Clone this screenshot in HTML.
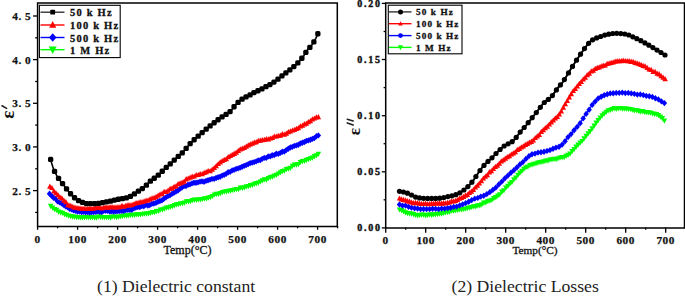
<!DOCTYPE html>
<html><head><meta charset="utf-8"><style>
html,body{margin:0;padding:0;background:#fff;width:685px;height:296px;overflow:hidden}
svg{display:block}
</style></head><body>
<svg width="685" height="296" viewBox="0 0 685 296">
<style>
.tk { font-family: "Liberation Serif", serif; font-weight: bold; font-size: 11.3px; letter-spacing: 0.5px; fill: #111; stroke:#111; stroke-width:0.25px; }
.tk2 { font-family: "Liberation Serif", serif; font-weight: bold; font-size: 10px; letter-spacing: 1.7px; fill: #111; stroke:#111; stroke-width:0.4px; }
.lg { font-family: "Liberation Serif", serif; font-weight: bold; font-size: 10.5px; letter-spacing: 1.2px; fill: #111; stroke:#111; stroke-width:0.3px; }
.lg2 { font-family: "Liberation Serif", serif; font-weight: bold; font-size: 9.2px; letter-spacing: 1.1px; fill: #111; stroke:#111; stroke-width:0.3px; }
.lab { font-family: "Liberation Serif", serif; font-size: 12px; fill: #111; stroke:#111; stroke-width:0.3px; }
.eps { font-family: "Liberation Serif", serif; font-weight: bold; font-size: 19px; fill: #111; }
.cap { font-family: "Liberation Serif", serif; font-size: 17.7px; fill: #222; }
</style>
<rect width="685" height="296" fill="#fff"/>
<path d="M50.6 205.8 L51.6 206.7 L52.6 207.5 L53.6 208.3 L54.6 209.1 L55.6 209.7 L56.6 210.4 L57.6 210.9 L58.6 211.4 L59.6 211.9 L60.6 212.3 L61.6 212.8 L62.6 213.2 L63.6 213.6 L64.6 214 L65.6 214.4 L66.6 214.9 L67.6 215.3 L68.6 215.6 L69.6 215.9 L70.6 216.2 L71.6 216.4 L72.6 216.6 L73.6 216.7 L74.6 216.9 L75.6 217 L76.6 217.2 L77.6 217.3 L78.6 217.4 L79.6 217.4 L80.6 217.4 L81.6 217.4 L82.6 217.4 L83.6 217.4 L84.6 217.4 L85.6 217.4 L86.6 217.4 L87.6 217.4 L88.6 217.4 L89.6 217.4 L90.6 217.4 L91.6 217.4 L92.6 217.4 L93.6 217.4 L94.6 217.4 L95.6 217.4 L96.6 217.4 L97.6 217.4 L98.6 217.4 L99.6 217.4 L100.6 217.4 L101.6 217.4 L102.6 217.4 L103.6 217.3 L104.6 217.3 L105.6 217.3 L106.6 217.2 L107.6 217.2 L108.6 217.1 L109.6 217.1 L110.6 217 L111.6 217 L112.6 216.9 L113.6 216.9 L114.6 216.8 L115.6 216.7 L116.6 216.7 L117.5 216.6 L118.5 216.5 L119.5 216.5 L120.5 216.4 L121.5 216.3 L122.5 216.2 L123.5 216.1 L124.5 216 L125.5 215.9 L126.5 215.7 L127.5 215.6 L128.5 215.5 L129.5 215.4 L130.5 215.3 L131.5 215.2 L132.5 215.1 L133.5 215 L134.5 214.9 L135.5 214.8 L136.5 214.7 L137.5 214.6 L138.5 214.5 L139.5 214.4 L140.5 214.3 L141.5 214.2 L142.5 214.1 L143.5 213.9 L144.5 213.8 L145.5 213.7 L146.5 213.5 L147.5 213.4 L148.5 213.2 L149.5 213 L150.5 212.8 L151.5 212.6 L152.5 212.4 L153.5 212.2 L154.5 211.9 L155.5 211.6 L156.5 211.3 L157.5 211 L158.5 210.6 L159.5 210.3 L160.5 209.9 L161.5 209.6 L162.5 209.3 L163.5 209 L164.5 208.7 L165.5 208.4 L166.5 208.1 L167.5 207.8 L168.5 207.5 L169.5 207.1 L170.5 206.8 L171.5 206.5 L172.5 206.1 L173.5 205.8 L174.5 205.5 L175.5 205.2 L176.5 204.9 L177.5 204.6 L178.5 204.3 L179.5 204 L180.5 203.7 L181.5 203.4 L182.5 203.1 L183.5 202.8 L184.5 202.5 L185.5 202.2 L186.5 202 L187.5 201.7 L188.5 201.4 L189.5 201.1 L190.5 200.8 L191.5 200.6 L192.5 200.3 L193.5 200.1 L194.5 199.9 L195.5 199.8 L196.5 199.7 L197.5 199.6 L198.5 199.5 L199.5 199.4 L200.5 199.3 L201.5 199.3 L202.5 199.2 L203.5 199.1 L204.5 199 L205.5 198.8 L206.5 198.6 L207.5 198.3 L208.5 197.9 L209.5 197.5 L210.5 197 L211.5 196.5 L212.5 196 L213.5 195.5 L214.5 195.1 L215.5 194.7 L216.5 194.3 L217.5 194 L218.5 193.6 L219.5 193.3 L220.5 193 L221.5 192.7 L222.5 192.4 L223.5 192.1 L224.5 191.8 L225.5 191.6 L226.5 191.3 L227.5 191.1 L228.5 190.9 L229.5 190.6 L230.5 190.4 L231.5 190.2 L232.5 190 L233.5 189.8 L234.5 189.7 L235.5 189.5 L236.5 189.3 L237.5 189.1 L238.5 188.9 L239.5 188.7 L240.5 188.5 L241.5 188.2 L242.5 188 L243.5 187.7 L244.5 187.4 L245.5 187.1 L246.5 186.8 L247.5 186.5 L248.5 186.2 L249.5 185.8 L250.5 185.5 L251.4 185.1 L252.4 184.8 L253.4 184.4 L254.4 184 L255.4 183.5 L256.4 183.1 L257.4 182.7 L258.4 182.3 L259.4 181.9 L260.4 181.5 L261.4 181.1 L262.4 180.7 L263.4 180.3 L264.4 179.9 L265.4 179.5 L266.4 179.1 L267.4 178.8 L268.4 178.4 L269.4 177.9 L270.4 177.5 L271.4 177.1 L272.4 176.6 L273.4 176.1 L274.4 175.6 L275.4 175.1 L276.4 174.6 L277.4 174.1 L278.4 173.6 L279.4 173 L280.4 172.5 L281.4 172 L282.4 171.5 L283.4 171 L284.4 170.5 L285.4 170 L286.4 169.5 L287.4 169 L288.4 168.5 L289.4 168 L290.4 167.5 L291.4 167 L292.4 166.5 L293.4 166 L294.4 165.5 L295.4 165 L296.4 164.4 L297.4 163.9 L298.4 163.5 L299.4 163 L300.4 162.5 L301.4 162.1 L302.4 161.6 L303.4 161.2 L304.4 160.9 L305.4 160.5 L306.4 160.1 L307.4 159.7 L308.4 159.4 L309.4 158.9 L310.4 158.5 L311.4 158 L312.4 157.6 L313.4 157 L314.4 156.5 L315.4 155.9 L316.4 155.3 L317.4 154.6 L318.4 154" fill="none" stroke="#00ff00" stroke-width="1.2"/>
<g fill="#00ff00"><path d="M50.6 208.9L53.4 203.7H47.9Z"/><path d="M52.6 210.8L55.3 205.6H49.8Z"/><path d="M54.6 212.2L57.3 207H51.8Z"/><path d="M56.6 213L59.3 207.8H53.8Z"/><path d="M58.6 214.7L61.3 209.5H55.8Z"/><path d="M60.6 215.5L63.3 210.3H57.8Z"/><path d="M62.6 216.1L65.3 210.8H59.8Z"/><path d="M64.6 217.2L67.3 212H61.8Z"/><path d="M66.6 218L69.3 212.8H63.8Z"/><path d="M68.6 218.7L71.3 213.5H65.8Z"/><path d="M70.6 219.2L73.3 214H67.8Z"/><path d="M72.6 219.7L75.3 214.5H69.8Z"/><path d="M74.6 219.7L77.3 214.5H71.8Z"/><path d="M76.6 220.2L79.3 214.9H73.8Z"/><path d="M78.6 220.2L81.3 215H75.8Z"/><path d="M80.6 220.6L83.3 215.4H77.8Z"/><path d="M82.6 220.4L85.3 215.2H79.8Z"/><path d="M84.6 220.3L87.3 215.1H81.8Z"/><path d="M86.6 220.2L89.3 215H83.8Z"/><path d="M88.6 220.3L91.3 215.1H85.8Z"/><path d="M90.6 220.4L93.3 215.2H87.8Z"/><path d="M92.6 220.3L95.3 215.1H89.8Z"/><path d="M94.6 220.8L97.3 215.6H91.8Z"/><path d="M96.6 220.7L99.3 215.5H93.8Z"/><path d="M98.6 219.6L101.3 214.4H95.8Z"/><path d="M100.6 219.9L103.3 214.6H97.8Z"/><path d="M102.6 220.3L105.3 215.1H99.8Z"/><path d="M104.6 220.2L107.3 215H101.8Z"/><path d="M106.6 220.3L109.3 215.1H103.8Z"/><path d="M108.6 220.2L111.3 215H105.8Z"/><path d="M110.6 220.7L113.3 215.5H107.8Z"/><path d="M112.6 219.6L115.3 214.4H109.8Z"/><path d="M114.6 219.7L117.3 214.5H111.8Z"/><path d="M116.6 220.3L119.3 215.1H113.8Z"/><path d="M118.5 219.7L121.3 214.5H115.8Z"/><path d="M120.5 219.6L123.3 214.4H117.8Z"/><path d="M122.5 219.1L125.3 213.9H119.8Z"/><path d="M124.5 218.5L127.3 213.3H121.8Z"/><path d="M126.5 218.8L129.3 213.6H123.8Z"/><path d="M128.5 218.6L131.3 213.3H125.8Z"/><path d="M130.5 217.9L133.3 212.7H127.8Z"/><path d="M132.5 217.9L135.3 212.7H129.8Z"/><path d="M134.5 217.9L137.3 212.7H131.8Z"/><path d="M136.5 217.5L139.3 212.2H133.8Z"/><path d="M138.5 217.5L141.3 212.3H135.8Z"/><path d="M140.5 217.4L143.3 212.1H137.8Z"/><path d="M142.5 217.1L145.3 211.9H139.8Z"/><path d="M144.5 216.7L147.3 211.4H141.8Z"/><path d="M146.5 216.7L149.3 211.5H143.8Z"/><path d="M148.5 216.5L151.3 211.3H145.8Z"/><path d="M150.5 216L153.3 210.7H147.8Z"/><path d="M152.5 215.2L155.3 210H149.8Z"/><path d="M154.5 215.2L157.3 209.9H151.8Z"/><path d="M156.5 214.2L159.3 209H153.8Z"/><path d="M158.5 213.9L161.3 208.7H155.8Z"/><path d="M160.5 212.6L163.3 207.4H157.8Z"/><path d="M162.5 212.6L165.3 207.4H159.8Z"/><path d="M164.5 211.8L167.3 206.5H161.8Z"/><path d="M166.5 210.8L169.3 205.5H163.8Z"/><path d="M168.5 210.4L171.3 205.2H165.8Z"/><path d="M170.5 209.8L173.3 204.6H167.8Z"/><path d="M172.5 209.2L175.3 204H169.8Z"/><path d="M174.5 208.2L177.3 203H171.8Z"/><path d="M176.5 207.6L179.3 202.3H173.8Z"/><path d="M178.5 207.3L181.3 202.1H175.8Z"/><path d="M180.5 206.5L183.3 201.3H177.8Z"/><path d="M182.5 206.2L185.3 200.9H179.8Z"/><path d="M184.5 205.8L187.2 200.5H181.7Z"/><path d="M186.5 204.5L189.2 199.3H183.7Z"/><path d="M188.5 204.5L191.2 199.3H185.7Z"/><path d="M190.5 204.2L193.2 199H187.7Z"/><path d="M192.5 203.3L195.2 198.1H189.7Z"/><path d="M194.5 202.7L197.2 197.5H191.7Z"/><path d="M196.5 202.9L199.2 197.7H193.7Z"/><path d="M198.5 202.6L201.2 197.3H195.7Z"/><path d="M200.5 202.6L203.2 197.4H197.7Z"/><path d="M202.5 202.1L205.2 196.9H199.7Z"/><path d="M204.5 201.5L207.2 196.3H201.7Z"/><path d="M206.5 201.6L209.2 196.4H203.7Z"/><path d="M208.5 200.8L211.2 195.6H205.7Z"/><path d="M210.5 200.3L213.2 195.1H207.7Z"/><path d="M212.5 199.1L215.2 193.9H209.7Z"/><path d="M214.5 197.6L217.2 192.4H211.7Z"/><path d="M216.5 197L219.2 191.8H213.7Z"/><path d="M218.5 196.9L221.2 191.7H215.7Z"/><path d="M220.5 196.2L223.2 191H217.7Z"/><path d="M222.5 195.2L225.2 190H219.7Z"/><path d="M224.5 194.8L227.2 189.6H221.7Z"/><path d="M226.5 194.5L229.2 189.3H223.7Z"/><path d="M228.5 194L231.2 188.8H225.7Z"/><path d="M230.5 193.7L233.2 188.5H227.7Z"/><path d="M232.5 193.1L235.2 187.9H229.7Z"/><path d="M234.5 192.7L237.2 187.4H231.7Z"/><path d="M236.5 192.2L239.2 187H233.7Z"/><path d="M238.5 192.2L241.2 187H235.7Z"/><path d="M240.5 190.8L243.2 185.6H237.7Z"/><path d="M242.5 190.9L245.2 185.7H239.7Z"/><path d="M244.5 190.4L247.2 185.2H241.7Z"/><path d="M246.5 189.4L249.2 184.2H243.7Z"/><path d="M248.5 189.3L251.2 184.1H245.7Z"/><path d="M250.5 188.3L253.2 183.1H247.7Z"/><path d="M252.4 188L255.2 182.8H249.7Z"/><path d="M254.4 186.9L257.2 181.7H251.7Z"/><path d="M256.4 186.4L259.2 181.1H253.7Z"/><path d="M258.4 185.7L261.2 180.4H255.7Z"/><path d="M260.4 184.6L263.2 179.4H257.7Z"/><path d="M262.4 183.4L265.2 178.2H259.7Z"/><path d="M264.4 182.5L267.2 177.3H261.7Z"/><path d="M266.4 182.7L269.2 177.5H263.7Z"/><path d="M268.4 181.3L271.2 176.1H265.7Z"/><path d="M270.4 180.3L273.2 175.1H267.7Z"/><path d="M272.4 179.7L275.2 174.4H269.7Z"/><path d="M274.4 178.6L277.2 173.4H271.7Z"/><path d="M276.4 177.9L279.2 172.7H273.7Z"/><path d="M278.4 176.6L281.2 171.4H275.7Z"/><path d="M280.4 175.6L283.2 170.3H277.7Z"/><path d="M282.4 174.3L285.2 169.1H279.7Z"/><path d="M284.4 173.7L287.2 168.5H281.7Z"/><path d="M286.4 172.2L289.2 167H283.7Z"/><path d="M288.4 171.7L291.2 166.5H285.7Z"/><path d="M290.4 171L293.2 165.7H287.7Z"/><path d="M292.4 169.1L295.2 163.8H289.7Z"/><path d="M294.4 167.7L297.2 162.5H291.7Z"/><path d="M296.4 167.7L299.2 162.4H293.7Z"/><path d="M298.4 167.2L301.2 162H295.7Z"/><path d="M300.4 165.2L303.2 160H297.7Z"/><path d="M302.4 164.3L305.2 159.1H299.7Z"/><path d="M304.4 164.1L307.2 158.8H301.7Z"/><path d="M306.4 162.9L309.2 157.7H303.7Z"/><path d="M308.4 162.2L311.2 157H305.7Z"/><path d="M310.4 161.4L313.2 156.2H307.7Z"/><path d="M312.4 160.7L315.2 155.5H309.7Z"/><path d="M314.4 159.4L317.2 154.1H311.7Z"/><path d="M316.4 158.4L319.2 153.2H313.7Z"/><path d="M318.4 157L321.1 151.7H315.6Z"/></g>
<path d="M49.5 193.7 L50.5 194.8 L51.5 195.9 L52.5 197 L53.5 197.9 L54.5 198.7 L55.5 199.5 L56.5 200.2 L57.5 200.8 L58.5 201.4 L59.5 202.1 L60.5 202.7 L61.5 203.3 L62.5 204 L63.5 204.7 L64.5 205.4 L65.5 206.1 L66.5 206.8 L67.5 207.4 L68.5 207.9 L69.5 208.5 L70.5 209 L71.5 209.5 L72.5 210 L73.5 210.4 L74.5 210.8 L75.5 211 L76.5 211.2 L77.5 211.4 L78.5 211.5 L79.5 211.7 L80.5 211.8 L81.5 211.9 L82.5 212 L83.5 212.1 L84.5 212.2 L85.5 212.3 L86.5 212.3 L87.5 212.3 L88.5 212.3 L89.5 212.2 L90.5 212.2 L91.5 212.1 L92.5 212.1 L93.5 212 L94.5 211.9 L95.5 211.8 L96.5 211.7 L97.5 211.6 L98.5 211.6 L99.5 211.5 L100.5 211.5 L101.5 211.5 L102.5 211.4 L103.5 211.4 L104.5 211.4 L105.5 211.4 L106.5 211.3 L107.5 211.3 L108.5 211.3 L109.5 211.3 L110.5 211.3 L111.5 211.3 L112.5 211.2 L113.5 211.2 L114.5 211.2 L115.5 211.2 L116.5 211.1 L117.5 211.1 L118.5 211.1 L119.5 211 L120.5 211 L121.5 210.9 L122.5 210.8 L123.5 210.7 L124.5 210.6 L125.5 210.4 L126.5 210.3 L127.5 210.1 L128.5 209.9 L129.5 209.7 L130.5 209.5 L131.5 209.3 L132.5 209 L133.5 208.7 L134.5 208.4 L135.5 208.1 L136.5 207.7 L137.5 207.4 L138.5 207.1 L139.5 206.8 L140.5 206.5 L141.5 206.3 L142.5 206.1 L143.5 205.9 L144.5 205.7 L145.5 205.6 L146.5 205.4 L147.5 205.2 L148.5 205 L149.5 204.8 L150.5 204.6 L151.5 204.3 L152.5 204 L153.5 203.6 L154.5 203.2 L155.5 202.8 L156.5 202.3 L157.5 201.9 L158.5 201.4 L159.5 200.9 L160.5 200.4 L161.5 199.9 L162.5 199.4 L163.5 198.9 L164.5 198.3 L165.5 197.8 L166.5 197.2 L167.5 196.6 L168.5 196 L169.5 195.4 L170.5 194.8 L171.5 194.2 L172.5 193.6 L173.5 193 L174.5 192.4 L175.5 191.8 L176.5 191.2 L177.5 190.6 L178.5 190 L179.5 189.4 L180.5 188.9 L181.5 188.3 L182.5 187.8 L183.5 187.2 L184.4 186.6 L185.4 186 L186.4 185.5 L187.4 185 L188.4 184.5 L189.4 184.1 L190.4 183.7 L191.4 183.5 L192.4 183.2 L193.4 183 L194.4 182.9 L195.4 182.7 L196.4 182.6 L197.4 182.4 L198.4 182.3 L199.4 182.1 L200.4 182 L201.4 181.8 L202.4 181.6 L203.4 181.4 L204.4 181.1 L205.4 180.9 L206.4 180.6 L207.4 180.3 L208.4 180.1 L209.4 179.8 L210.4 179.5 L211.4 179.2 L212.4 179 L213.4 178.7 L214.4 178.5 L215.4 178.2 L216.4 177.9 L217.4 177.6 L218.4 177.3 L219.4 177 L220.4 176.6 L221.4 176.2 L222.4 175.7 L223.4 175.2 L224.4 174.6 L225.4 174 L226.4 173.4 L227.4 172.9 L228.4 172.3 L229.4 171.8 L230.4 171.4 L231.4 170.9 L232.4 170.5 L233.4 170.1 L234.4 169.8 L235.4 169.4 L236.4 169 L237.4 168.7 L238.4 168.3 L239.4 167.9 L240.4 167.5 L241.4 167.2 L242.4 166.8 L243.4 166.4 L244.4 165.9 L245.4 165.5 L246.4 165.1 L247.4 164.7 L248.4 164.3 L249.4 163.9 L250.4 163.5 L251.4 163.1 L252.4 162.7 L253.4 162.2 L254.4 161.8 L255.4 161.4 L256.4 161 L257.4 160.5 L258.4 160.1 L259.4 159.7 L260.4 159.4 L261.4 159 L262.4 158.7 L263.4 158.3 L264.4 158 L265.4 157.7 L266.4 157.4 L267.4 157 L268.4 156.7 L269.4 156.4 L270.4 156.1 L271.4 155.8 L272.4 155.5 L273.4 155.2 L274.4 154.9 L275.4 154.6 L276.4 154.3 L277.4 153.9 L278.4 153.6 L279.4 153.3 L280.4 152.9 L281.4 152.5 L282.4 152 L283.4 151.5 L284.4 151 L285.4 150.4 L286.4 149.8 L287.4 149.3 L288.4 148.7 L289.4 148.2 L290.4 147.7 L291.4 147.2 L292.4 146.8 L293.4 146.4 L294.4 146 L295.4 145.6 L296.4 145.2 L297.4 144.8 L298.4 144.4 L299.4 144.1 L300.4 143.7 L301.4 143.3 L302.4 142.9 L303.4 142.5 L304.4 142.1 L305.4 141.7 L306.4 141.4 L307.4 141 L308.4 140.6 L309.4 140.2 L310.4 139.7 L311.4 139.3 L312.4 138.8 L313.4 138.2 L314.4 137.7 L315.4 137.1 L316.4 136.5 L317.4 135.9 L318.4 135.3" fill="none" stroke="#0000ff" stroke-width="1.2"/>
<g fill="#0000ff"><path d="M49.5 190.6L52.2 193.8L49.5 196.9L46.8 193.8Z"/><path d="M51.5 192.6L54.3 195.8L51.5 199L48.8 195.8Z"/><path d="M53.5 194.6L56.3 197.8L53.5 201L50.8 197.8Z"/><path d="M55.5 195.6L58.3 198.8L55.5 201.9L52.8 198.8Z"/><path d="M57.5 198.2L60.3 201.4L57.5 204.5L54.8 201.4Z"/><path d="M59.5 199.3L62.3 202.4L59.5 205.6L56.8 202.4Z"/><path d="M61.5 200.1L64.3 203.3L61.5 206.4L58.8 203.3Z"/><path d="M63.5 201.8L66.3 205L63.5 208.1L60.8 205Z"/><path d="M65.6 203.1L68.3 206.2L65.6 209.4L62.8 206.2Z"/><path d="M67.6 204.1L70.3 207.3L67.6 210.4L64.8 207.3Z"/><path d="M69.6 205.7L72.3 208.8L69.6 212L66.8 208.8Z"/><path d="M71.6 206.3L74.3 209.5L71.6 212.6L68.8 209.5Z"/><path d="M73.6 207.2L76.3 210.4L73.6 213.5L70.8 210.4Z"/><path d="M75.6 207.6L78.3 210.8L75.6 213.9L72.8 210.8Z"/><path d="M77.6 208.3L80.3 211.5L77.6 214.7L74.8 211.5Z"/><path d="M79.6 208.5L82.4 211.7L79.6 214.8L76.9 211.7Z"/><path d="M81.6 208.9L84.4 212.1L81.6 215.3L78.9 212.1Z"/><path d="M83.6 208.8L86.4 212L83.6 215.1L80.9 212Z"/><path d="M85.6 209.1L88.4 212.3L85.6 215.5L82.9 212.3Z"/><path d="M87.6 208.9L90.4 212L87.6 215.2L84.9 212Z"/><path d="M89.6 209.3L92.4 212.5L89.6 215.7L86.9 212.5Z"/><path d="M91.6 209L94.4 212.2L91.6 215.3L88.9 212.2Z"/><path d="M93.6 208.9L96.4 212.1L93.6 215.2L90.9 212.1Z"/><path d="M95.7 208.7L98.4 211.9L95.7 215.1L92.9 211.9Z"/><path d="M97.7 208.2L100.4 211.3L97.7 214.5L94.9 211.3Z"/><path d="M99.7 208.6L102.4 211.7L99.7 214.9L96.9 211.7Z"/><path d="M101.7 208.9L104.4 212.1L101.7 215.2L98.9 212.1Z"/><path d="M103.7 207.7L106.4 210.9L103.7 214.1L100.9 210.9Z"/><path d="M105.7 207.7L108.4 210.8L105.7 214L102.9 210.8Z"/><path d="M107.7 207.7L110.4 210.9L107.7 214L104.9 210.9Z"/><path d="M109.7 208.4L112.5 211.5L109.7 214.7L107 211.5Z"/><path d="M111.7 208.1L114.5 211.3L111.7 214.4L109 211.3Z"/><path d="M113.7 208.4L116.5 211.5L113.7 214.7L111 211.5Z"/><path d="M115.7 208.2L118.5 211.4L115.7 214.5L113 211.4Z"/><path d="M117.7 208L120.5 211.2L117.7 214.3L115 211.2Z"/><path d="M119.7 207.9L122.5 211.1L119.7 214.3L117 211.1Z"/><path d="M121.7 207.7L124.5 210.9L121.7 214L119 210.9Z"/><path d="M123.7 207.8L126.5 210.9L123.7 214.1L121 210.9Z"/><path d="M125.8 206.9L128.5 210L125.8 213.2L123 210Z"/><path d="M127.8 206.7L130.5 209.9L127.8 213.1L125 209.9Z"/><path d="M129.8 206.5L132.5 209.7L129.8 212.9L127 209.7Z"/><path d="M131.8 206.6L134.5 209.7L131.8 212.9L129 209.7Z"/><path d="M133.8 205.2L136.5 208.4L133.8 211.5L131 208.4Z"/><path d="M135.8 204.5L138.5 207.6L135.8 210.8L133 207.6Z"/><path d="M137.8 204L140.5 207.1L137.8 210.3L135 207.1Z"/><path d="M139.8 203.8L142.6 207L139.8 210.2L137.1 207Z"/><path d="M141.8 203L144.6 206.2L141.8 209.3L139.1 206.2Z"/><path d="M143.8 203.1L146.6 206.3L143.8 209.4L141.1 206.3Z"/><path d="M145.8 201.8L148.6 205L145.8 208.1L143.1 205Z"/><path d="M147.8 202.3L150.6 205.5L147.8 208.7L145.1 205.5Z"/><path d="M149.8 201.9L152.6 205L149.8 208.2L147.1 205Z"/><path d="M151.8 200.6L154.6 203.7L151.8 206.9L149.1 203.7Z"/><path d="M153.8 200.3L156.6 203.5L153.8 206.7L151.1 203.5Z"/><path d="M155.9 199.8L158.6 203L155.9 206.1L153.1 203Z"/><path d="M157.9 198.5L160.6 201.7L157.9 204.9L155.1 201.7Z"/><path d="M159.9 197.8L162.6 201L159.9 204.2L157.1 201Z"/><path d="M161.9 197.3L164.6 200.4L161.9 203.6L159.1 200.4Z"/><path d="M163.9 195.6L166.6 198.7L163.9 201.9L161.1 198.7Z"/><path d="M165.9 194.3L168.6 197.4L165.9 200.6L163.1 197.4Z"/><path d="M167.9 192.9L170.6 196.1L167.9 199.3L165.1 196.1Z"/><path d="M169.9 192.2L172.7 195.3L169.9 198.5L167.2 195.3Z"/><path d="M171.9 190.7L174.7 193.9L171.9 197.1L169.2 193.9Z"/><path d="M173.9 189.5L176.7 192.7L173.9 195.9L171.2 192.7Z"/><path d="M175.9 188.3L178.7 191.5L175.9 194.7L173.2 191.5Z"/><path d="M177.9 187.3L180.7 190.5L177.9 193.7L175.2 190.5Z"/><path d="M179.9 185.7L182.7 188.8L179.9 192L177.2 188.8Z"/><path d="M181.9 184.4L184.7 187.6L181.9 190.7L179.2 187.6Z"/><path d="M183.9 183L186.7 186.2L183.9 189.3L181.2 186.2Z"/><path d="M186 183L188.7 186.1L186 189.3L183.2 186.1Z"/><path d="M188 181.6L190.7 184.8L188 187.9L185.2 184.8Z"/><path d="M190 181.2L192.7 184.4L190 187.5L187.2 184.4Z"/><path d="M192 180.2L194.7 183.3L192 186.5L189.2 183.3Z"/><path d="M194 179.6L196.7 182.7L194 185.9L191.2 182.7Z"/><path d="M196 179.6L198.7 182.8L196 185.9L193.2 182.8Z"/><path d="M198 179.2L200.7 182.3L198 185.5L195.2 182.3Z"/><path d="M200 178.5L202.8 181.7L200 184.8L197.3 181.7Z"/><path d="M202 178.2L204.8 181.4L202 184.6L199.3 181.4Z"/><path d="M204 178.6L206.8 181.7L204 184.9L201.3 181.7Z"/><path d="M206 177.7L208.8 180.8L206 184L203.3 180.8Z"/><path d="M208 177.1L210.8 180.3L208 183.5L205.3 180.3Z"/><path d="M210 176.4L212.8 179.5L210 182.7L207.3 179.5Z"/><path d="M212 175.7L214.8 178.9L212 182L209.3 178.9Z"/><path d="M214.1 175.7L216.8 178.8L214.1 182L211.3 178.8Z"/><path d="M216.1 174.8L218.8 178L216.1 181.2L213.3 178Z"/><path d="M218.1 174.1L220.8 177.2L218.1 180.4L215.3 177.2Z"/><path d="M220.1 173.6L222.8 176.7L220.1 179.9L217.3 176.7Z"/><path d="M222.1 172.5L224.8 175.6L222.1 178.8L219.3 175.6Z"/><path d="M224.1 171.7L226.8 174.9L224.1 178L221.3 174.9Z"/><path d="M226.1 170.8L228.8 174L226.1 177.1L223.3 174Z"/><path d="M228.1 169.1L230.8 172.2L228.1 175.4L225.3 172.2Z"/><path d="M230.1 168.8L232.9 171.9L230.1 175.1L227.4 171.9Z"/><path d="M232.1 167.3L234.9 170.5L232.1 173.6L229.4 170.5Z"/><path d="M234.1 166.8L236.9 169.9L234.1 173.1L231.4 169.9Z"/><path d="M236.1 165.7L238.9 168.9L236.1 172.1L233.4 168.9Z"/><path d="M238.1 165.2L240.9 168.4L238.1 171.5L235.4 168.4Z"/><path d="M240.1 164.5L242.9 167.7L240.1 170.8L237.4 167.7Z"/><path d="M242.1 163.6L244.9 166.7L242.1 169.9L239.4 166.7Z"/><path d="M244.2 162.7L246.9 165.8L244.2 169L241.4 165.8Z"/><path d="M246.2 161.9L248.9 165L246.2 168.2L243.4 165Z"/><path d="M248.2 161L250.9 164.2L248.2 167.3L245.4 164.2Z"/><path d="M250.2 160L252.9 163.1L250.2 166.3L247.4 163.1Z"/><path d="M252.2 159.5L254.9 162.7L252.2 165.8L249.4 162.7Z"/><path d="M254.2 158.9L256.9 162L254.2 165.2L251.4 162Z"/><path d="M256.2 158.2L258.9 161.3L256.2 164.5L253.4 161.3Z"/><path d="M258.2 157.3L260.9 160.4L258.2 163.6L255.4 160.4Z"/><path d="M260.2 157L263 160.2L260.2 163.3L257.5 160.2Z"/><path d="M262.2 155.7L265 158.8L262.2 162L259.5 158.8Z"/><path d="M264.2 154.8L267 157.9L264.2 161.1L261.5 157.9Z"/><path d="M266.2 154.8L269 158L266.2 161.1L263.5 158Z"/><path d="M268.2 153.3L271 156.5L268.2 159.6L265.5 156.5Z"/><path d="M270.2 153.3L273 156.4L270.2 159.6L267.5 156.4Z"/><path d="M272.2 152.1L275 155.2L272.2 158.4L269.5 155.2Z"/><path d="M274.3 151.9L277 155L274.3 158.2L271.5 155Z"/><path d="M276.3 150.6L279 153.7L276.3 156.9L273.5 153.7Z"/><path d="M278.3 150.8L281 153.9L278.3 157.1L275.5 153.9Z"/><path d="M280.3 149.7L283 152.9L280.3 156.1L277.5 152.9Z"/><path d="M282.3 148.6L285 151.8L282.3 155L279.5 151.8Z"/><path d="M284.3 148.4L287 151.6L284.3 154.7L281.5 151.6Z"/><path d="M286.3 147L289 150.1L286.3 153.3L283.5 150.1Z"/><path d="M288.3 145.6L291 148.8L288.3 152L285.5 148.8Z"/><path d="M290.3 144.3L293.1 147.5L290.3 150.7L287.6 147.5Z"/><path d="M292.3 143.7L295.1 146.8L292.3 150L289.6 146.8Z"/><path d="M294.3 142.8L297.1 146L294.3 149.1L291.6 146Z"/><path d="M296.3 142.3L299.1 145.4L296.3 148.6L293.6 145.4Z"/><path d="M298.3 141.5L301.1 144.7L298.3 147.9L295.6 144.7Z"/><path d="M300.3 140.3L303.1 143.5L300.3 146.7L297.6 143.5Z"/><path d="M302.3 139.6L305.1 142.7L302.3 145.9L299.6 142.7Z"/><path d="M304.4 138.8L307.1 142L304.4 145.2L301.6 142Z"/><path d="M306.4 137.8L309.1 141L306.4 144.1L303.6 141Z"/><path d="M308.4 137.2L311.1 140.4L308.4 143.6L305.6 140.4Z"/><path d="M310.4 136.5L313.1 139.7L310.4 142.9L307.6 139.7Z"/><path d="M312.4 135.8L315.1 139L312.4 142.1L309.6 139Z"/><path d="M314.4 134.9L317.1 138.1L314.4 141.3L311.6 138.1Z"/><path d="M316.4 133.1L319.1 136.3L316.4 139.5L313.6 136.3Z"/><path d="M318.4 132.3L321.1 135.5L318.4 138.6L315.6 135.5Z"/></g>
<path d="M49.9 186 L50.9 187.4 L51.9 188.7 L52.9 189.9 L53.9 191.1 L54.9 192.2 L55.9 193.2 L56.9 194.2 L57.9 195.2 L58.9 196.1 L59.9 197.1 L60.9 198 L61.9 198.9 L62.9 199.7 L63.9 200.6 L64.9 201.4 L65.9 202.3 L66.9 203.2 L67.9 204 L68.9 204.7 L69.9 205.4 L70.9 205.9 L71.9 206.4 L72.9 206.9 L73.9 207.3 L74.9 207.7 L75.9 208 L77 208.2 L78 208.3 L79 208.4 L80 208.4 L81 208.5 L82 208.5 L83 208.5 L84 208.6 L85 208.6 L86 208.6 L87 208.6 L88 208.6 L89 208.6 L90 208.5 L91 208.5 L92 208.4 L93 208.3 L94 208.2 L95 208.1 L96 208 L97 207.9 L98 207.8 L99 207.8 L100 207.7 L101 207.6 L102 207.6 L103 207.5 L104 207.5 L105 207.5 L106 207.4 L107 207.4 L108 207.3 L109 207.3 L110 207.2 L111 207.2 L112 207.2 L113 207.1 L114 207.1 L115 207.1 L116 207 L117 207 L118 206.9 L119 206.9 L120 206.8 L121 206.7 L122 206.6 L123 206.5 L124 206.3 L125 206.2 L126 206 L127 205.7 L128 205.5 L129 205.3 L130 205.1 L131.1 204.8 L132.1 204.6 L133.1 204.3 L134.1 204 L135.1 203.7 L136.1 203.4 L137.1 203.1 L138.1 202.8 L139.1 202.5 L140.1 202.2 L141.1 201.9 L142.1 201.6 L143.1 201.3 L144.1 201 L145.1 200.7 L146.1 200.5 L147.1 200.2 L148.1 199.9 L149.1 199.6 L150.1 199.2 L151.1 198.9 L152.1 198.5 L153.1 198 L154.1 197.6 L155.1 197.1 L156.1 196.6 L157.1 196.1 L158.1 195.6 L159.1 195.1 L160.1 194.6 L161.1 194.1 L162.1 193.6 L163.1 193.1 L164.1 192.5 L165.1 192 L166.1 191.5 L167.1 190.9 L168.1 190.4 L169.1 189.8 L170.1 189.3 L171.1 188.7 L172.1 188.2 L173.1 187.6 L174.1 187 L175.1 186.5 L176.1 185.9 L177.1 185.3 L178.1 184.7 L179.1 184.1 L180.1 183.6 L181.1 183 L182.1 182.4 L183.1 181.7 L184.2 181.1 L185.2 180.5 L186.2 179.8 L187.2 179.2 L188.2 178.6 L189.2 178 L190.2 177.5 L191.2 177.1 L192.2 176.7 L193.2 176.3 L194.2 176 L195.2 175.7 L196.2 175.4 L197.2 175.1 L198.2 174.8 L199.2 174.5 L200.2 174.2 L201.2 173.9 L202.2 173.5 L203.2 173.2 L204.2 172.9 L205.2 172.5 L206.2 172.2 L207.2 171.8 L208.2 171.4 L209.2 171 L210.2 170.5 L211.2 170 L212.2 169.4 L213.2 168.6 L214.2 167.7 L215.2 166.7 L216.2 165.7 L217.2 164.7 L218.2 163.8 L219.2 163.1 L220.2 162.4 L221.2 161.8 L222.2 161.2 L223.2 160.6 L224.2 160 L225.2 159.3 L226.2 158.7 L227.2 158.1 L228.2 157.4 L229.2 156.8 L230.2 156.1 L231.2 155.5 L232.2 154.8 L233.2 154.2 L234.2 153.6 L235.2 153 L236.2 152.4 L237.2 151.8 L238.3 151.1 L239.3 150.5 L240.3 149.9 L241.3 149.3 L242.3 148.6 L243.3 148 L244.3 147.4 L245.3 146.8 L246.3 146.3 L247.3 145.8 L248.3 145.3 L249.3 144.8 L250.3 144.3 L251.3 143.8 L252.3 143.4 L253.3 143 L254.3 142.6 L255.3 142.2 L256.3 141.8 L257.3 141.4 L258.3 141.1 L259.3 140.7 L260.3 140.5 L261.3 140.2 L262.3 140 L263.3 139.8 L264.3 139.5 L265.3 139.3 L266.3 139 L267.3 138.8 L268.3 138.5 L269.3 138.3 L270.3 138 L271.3 137.7 L272.3 137.5 L273.3 137.3 L274.3 137 L275.3 136.8 L276.3 136.5 L277.3 136.3 L278.3 136 L279.3 135.8 L280.3 135.5 L281.3 135.2 L282.3 134.8 L283.3 134.5 L284.3 134.1 L285.3 133.7 L286.3 133.3 L287.3 132.9 L288.3 132.5 L289.3 132 L290.3 131.6 L291.3 131.1 L292.4 130.7 L293.4 130.2 L294.4 129.7 L295.4 129.1 L296.4 128.6 L297.4 128.1 L298.4 127.5 L299.4 127 L300.4 126.4 L301.4 125.9 L302.4 125.3 L303.4 124.7 L304.4 124.1 L305.4 123.5 L306.4 122.9 L307.4 122.3 L308.4 121.7 L309.4 121.2 L310.4 120.6 L311.4 120.1 L312.4 119.5 L313.4 119 L314.4 118.5 L315.4 118 L316.4 117.5 L317.4 117 L318.4 116.5" fill="none" stroke="#ff0000" stroke-width="1.2"/>
<g fill="#ff0000"><path d="M49.9 183.6L52.6 188.8H47.1Z"/><path d="M51.9 184.9L54.7 190.1H49.2Z"/><path d="M53.9 188.2L56.7 193.4H51.2Z"/><path d="M55.9 190L58.7 195.2H53.2Z"/><path d="M57.9 192L60.7 197.2H55.2Z"/><path d="M59.9 194L62.7 199.2H57.2Z"/><path d="M61.9 195.2L64.7 200.5H59.2Z"/><path d="M63.9 197.5L66.7 202.7H61.2Z"/><path d="M65.9 199L68.7 204.3H63.2Z"/><path d="M67.9 202L70.7 207.2H65.2Z"/><path d="M69.9 202.4L72.7 207.7H67.2Z"/><path d="M71.9 203.3L74.7 208.5H69.2Z"/><path d="M73.9 204.2L76.7 209.4H71.2Z"/><path d="M75.9 204.8L78.7 210H73.2Z"/><path d="M78 205L80.7 210.2H75.2Z"/><path d="M80 205.3L82.7 210.5H77.2Z"/><path d="M82 205.6L84.7 210.8H79.2Z"/><path d="M84 205.5L86.7 210.7H81.2Z"/><path d="M86 205.9L88.7 211.1H83.2Z"/><path d="M88 205.5L90.7 210.7H85.2Z"/><path d="M90 205.5L92.7 210.7H87.2Z"/><path d="M92 205.8L94.7 211H89.2Z"/><path d="M94 205.3L96.7 210.6H91.2Z"/><path d="M96 204.8L98.7 210.1H93.2Z"/><path d="M98 204.8L100.7 210H95.2Z"/><path d="M100 204.8L102.7 210.1H97.2Z"/><path d="M102 205.2L104.7 210.4H99.2Z"/><path d="M104 204.4L106.8 209.6H101.3Z"/><path d="M106 204.3L108.8 209.5H103.3Z"/><path d="M108 204.6L110.8 209.8H105.3Z"/><path d="M110 204L112.8 209.2H107.3Z"/><path d="M112 204.1L114.8 209.3H109.3Z"/><path d="M114 204.3L116.8 209.6H111.3Z"/><path d="M116 204.2L118.8 209.4H113.3Z"/><path d="M118 203.9L120.8 209.2H115.3Z"/><path d="M120 204L122.8 209.2H117.3Z"/><path d="M122 202.8L124.8 208H119.3Z"/><path d="M124 203.6L126.8 208.8H121.3Z"/><path d="M126 202.6L128.8 207.9H123.3Z"/><path d="M128 202L130.8 207.2H125.3Z"/><path d="M130 202.1L132.8 207.4H127.3Z"/><path d="M132.1 201.8L134.8 207H129.3Z"/><path d="M134.1 200.9L136.8 206.1H131.3Z"/><path d="M136.1 200.1L138.8 205.3H133.3Z"/><path d="M138.1 199.8L140.8 205H135.3Z"/><path d="M140.1 199.1L142.8 204.3H137.3Z"/><path d="M142.1 199L144.8 204.2H139.3Z"/><path d="M144.1 198.2L146.8 203.4H141.3Z"/><path d="M146.1 197.5L148.8 202.7H143.3Z"/><path d="M148.1 197.2L150.8 202.4H145.3Z"/><path d="M150.1 196.1L152.8 201.4H147.3Z"/><path d="M152.1 195.2L154.8 200.4H149.3Z"/><path d="M154.1 194.7L156.8 200H151.3Z"/><path d="M156.1 193.8L158.8 199H153.3Z"/><path d="M158.1 192.5L160.9 197.8H155.4Z"/><path d="M160.1 191.3L162.9 196.6H157.4Z"/><path d="M162.1 190.6L164.9 195.9H159.4Z"/><path d="M164.1 188.8L166.9 194H161.4Z"/><path d="M166.1 188.7L168.9 193.9H163.4Z"/><path d="M168.1 187.5L170.9 192.7H165.4Z"/><path d="M170.1 185.8L172.9 191H167.4Z"/><path d="M172.1 185.2L174.9 190.4H169.4Z"/><path d="M174.1 183.7L176.9 188.9H171.4Z"/><path d="M176.1 183.1L178.9 188.3H173.4Z"/><path d="M178.1 181.1L180.9 186.3H175.4Z"/><path d="M180.1 180.3L182.9 185.5H177.4Z"/><path d="M182.1 179.6L184.9 184.8H179.4Z"/><path d="M184.2 178.4L186.9 183.7H181.4Z"/><path d="M186.2 176.1L188.9 181.4H183.4Z"/><path d="M188.2 175.4L190.9 180.6H185.4Z"/><path d="M190.2 174.6L192.9 179.8H187.4Z"/><path d="M192.2 173.5L194.9 178.7H189.4Z"/><path d="M194.2 173.4L196.9 178.6H191.4Z"/><path d="M196.2 172L198.9 177.2H193.4Z"/><path d="M198.2 171.9L200.9 177.1H195.4Z"/><path d="M200.2 170.9L202.9 176.1H197.4Z"/><path d="M202.2 170.9L204.9 176.2H199.4Z"/><path d="M204.2 169.8L206.9 175.1H201.4Z"/><path d="M206.2 169L208.9 174.3H203.4Z"/><path d="M208.2 167.9L210.9 173.1H205.4Z"/><path d="M210.2 168L212.9 173.2H207.4Z"/><path d="M212.2 166.6L215 171.8H209.5Z"/><path d="M214.2 164.9L217 170.1H211.5Z"/><path d="M216.2 163L219 168.2H213.5Z"/><path d="M218.2 160.9L221 166.1H215.5Z"/><path d="M220.2 159.2L223 164.4H217.5Z"/><path d="M222.2 157.9L225 163.1H219.5Z"/><path d="M224.2 156.7L227 161.9H221.5Z"/><path d="M226.2 156.1L229 161.3H223.5Z"/><path d="M228.2 154L231 159.2H225.5Z"/><path d="M230.2 152.9L233 158.1H227.5Z"/><path d="M232.2 151.7L235 157H229.5Z"/><path d="M234.2 150.6L237 155.9H231.5Z"/><path d="M236.2 149.5L239 154.7H233.5Z"/><path d="M238.3 147.7L241 153H235.5Z"/><path d="M240.3 146.3L243 151.6H237.5Z"/><path d="M242.3 145.6L245 150.8H239.5Z"/><path d="M244.3 144.7L247 150H241.5Z"/><path d="M246.3 143.5L249 148.7H243.5Z"/><path d="M248.3 142.3L251 147.5H245.5Z"/><path d="M250.3 141.2L253 146.4H247.5Z"/><path d="M252.3 140.5L255 145.7H249.5Z"/><path d="M254.3 139.5L257 144.7H251.5Z"/><path d="M256.3 139L259 144.2H253.5Z"/><path d="M258.3 137.8L261 143H255.5Z"/><path d="M260.3 137.5L263 142.7H257.5Z"/><path d="M262.3 137L265 142.2H259.5Z"/><path d="M264.3 136.7L267 141.9H261.5Z"/><path d="M266.3 136.1L269.1 141.3H263.6Z"/><path d="M268.3 136.3L271.1 141.5H265.6Z"/><path d="M270.3 135.4L273.1 140.6H267.6Z"/><path d="M272.3 134.9L275.1 140.1H269.6Z"/><path d="M274.3 133.4L277.1 138.6H271.6Z"/><path d="M276.3 133.4L279.1 138.6H273.6Z"/><path d="M278.3 132.8L281.1 138.1H275.6Z"/><path d="M280.3 132.6L283.1 137.8H277.6Z"/><path d="M282.3 131.1L285.1 136.3H279.6Z"/><path d="M284.3 131.4L287.1 136.7H281.6Z"/><path d="M286.3 130.6L289.1 135.8H283.6Z"/><path d="M288.3 129.1L291.1 134.3H285.6Z"/><path d="M290.3 128.3L293.1 133.5H287.6Z"/><path d="M292.4 127.4L295.1 132.6H289.6Z"/><path d="M294.4 126.7L297.1 131.9H291.6Z"/><path d="M296.4 125.8L299.1 131H293.6Z"/><path d="M298.4 125.1L301.1 130.3H295.6Z"/><path d="M300.4 123.3L303.1 128.5H297.6Z"/><path d="M302.4 122.5L305.1 127.7H299.6Z"/><path d="M304.4 121.1L307.1 126.4H301.6Z"/><path d="M306.4 120.4L309.1 125.7H303.6Z"/><path d="M308.4 118.9L311.1 124.2H305.6Z"/><path d="M310.4 118L313.1 123.2H307.6Z"/><path d="M312.4 116.2L315.1 121.4H309.6Z"/><path d="M314.4 115.4L317.1 120.6H311.6Z"/><path d="M316.4 114.2L319.1 119.4H313.6Z"/><path d="M318.4 113.9L321.1 119.2H315.6Z"/></g>
<path d="M50.6 159.5 L51.6 163 L52.6 166.2 L53.6 169.1 L54.6 171.5 L55.6 173.5 L56.6 175.3 L57.6 176.9 L58.6 178.4 L59.6 179.8 L60.6 181.2 L61.6 182.5 L62.6 183.7 L63.6 185 L64.6 186.3 L65.6 187.7 L66.6 189 L67.6 190.2 L68.6 191.5 L69.6 192.7 L70.6 193.9 L71.6 195 L72.6 196.1 L73.6 197 L74.6 197.8 L75.6 198.6 L76.6 199.4 L77.6 200.1 L78.6 200.7 L79.6 201.2 L80.6 201.7 L81.6 202.1 L82.6 202.5 L83.6 202.9 L84.6 203.2 L85.6 203.4 L86.6 203.6 L87.6 203.6 L88.6 203.6 L89.6 203.6 L90.6 203.6 L91.6 203.6 L92.6 203.6 L93.6 203.6 L94.6 203.5 L95.6 203.5 L96.6 203.5 L97.6 203.4 L98.6 203.3 L99.6 203.2 L100.6 203 L101.6 202.8 L102.6 202.6 L103.6 202.4 L104.6 202.2 L105.6 202 L106.6 201.8 L107.6 201.7 L108.6 201.5 L109.6 201.3 L110.6 201.1 L111.6 200.8 L112.6 200.5 L113.6 200.3 L114.6 200 L115.6 199.7 L116.6 199.5 L117.7 199.4 L118.7 199.2 L119.7 199.1 L120.7 198.9 L121.7 198.8 L122.7 198.7 L123.7 198.5 L124.7 198.3 L125.7 198 L126.7 197.7 L127.7 197.5 L128.7 197.1 L129.7 196.8 L130.7 196.3 L131.7 195.8 L132.7 195.2 L133.7 194.5 L134.7 193.7 L135.7 192.9 L136.7 192.2 L137.7 191.6 L138.7 190.9 L139.7 190.3 L140.7 189.7 L141.7 189 L142.7 188.3 L143.7 187.6 L144.7 186.8 L145.7 185.8 L146.7 184.8 L147.7 183.7 L148.7 182.7 L149.7 181.7 L150.7 180.9 L151.7 180.1 L152.7 179.3 L153.7 178.6 L154.7 178 L155.7 177.3 L156.7 176.5 L157.7 175.7 L158.7 174.8 L159.7 173.8 L160.7 172.9 L161.7 171.9 L162.7 170.9 L163.7 169.9 L164.7 169 L165.7 168 L166.7 167.1 L167.7 166.2 L168.7 165.3 L169.7 164.3 L170.7 163.4 L171.7 162.5 L172.7 161.5 L173.7 160.6 L174.7 159.6 L175.7 158.7 L176.7 157.8 L177.7 156.9 L178.7 156 L179.7 155.1 L180.7 154.2 L181.7 153.3 L182.7 152.4 L183.7 151.4 L184.7 150.3 L185.7 149.1 L186.7 147.8 L187.7 146.6 L188.7 145.4 L189.7 144.2 L190.7 143.1 L191.7 142.1 L192.7 141.1 L193.7 140.1 L194.7 139.2 L195.7 138.3 L196.7 137.4 L197.7 136.6 L198.7 135.7 L199.7 134.8 L200.7 133.9 L201.7 133 L202.7 132.1 L203.7 131.3 L204.7 130.4 L205.7 129.5 L206.7 128.6 L207.7 127.8 L208.7 127 L209.7 126.1 L210.7 125.3 L211.7 124.5 L212.7 123.8 L213.7 123 L214.7 122.3 L215.7 121.5 L216.7 120.8 L217.7 120.1 L218.7 119.3 L219.7 118.6 L220.7 117.9 L221.7 117.2 L222.7 116.6 L223.7 116 L224.7 115.3 L225.7 114.7 L226.7 114 L227.7 113.4 L228.7 112.6 L229.7 111.8 L230.7 110.9 L231.7 109.7 L232.7 108.5 L233.7 107.1 L234.7 105.9 L235.7 104.8 L236.7 103.8 L237.7 102.7 L238.7 101.8 L239.7 100.9 L240.7 100.1 L241.7 99.4 L242.7 98.7 L243.7 98.1 L244.7 97.5 L245.7 97 L246.7 96.5 L247.7 96 L248.7 95.6 L249.7 95.1 L250.7 94.6 L251.8 94 L252.8 93.4 L253.8 92.7 L254.8 92.1 L255.8 91.6 L256.8 91.2 L257.8 90.8 L258.8 90.4 L259.8 90 L260.8 89.6 L261.8 89.1 L262.8 88.5 L263.8 87.9 L264.8 87.3 L265.8 86.7 L266.8 86.2 L267.8 85.7 L268.8 85.2 L269.8 84.7 L270.8 84.1 L271.8 83.5 L272.8 82.9 L273.8 82.2 L274.8 81.5 L275.8 80.8 L276.8 80 L277.8 79.3 L278.8 78.5 L279.8 77.7 L280.8 76.9 L281.8 76.1 L282.8 75.3 L283.8 74.5 L284.8 73.8 L285.8 73 L286.8 72.3 L287.8 71.5 L288.8 70.8 L289.8 70 L290.8 69.2 L291.8 68.4 L292.8 67.5 L293.8 66.7 L294.8 65.8 L295.8 64.9 L296.8 63.9 L297.8 62.9 L298.8 61.9 L299.8 60.8 L300.8 59.6 L301.8 58.3 L302.8 57 L303.8 55.7 L304.8 54.1 L305.8 52.5 L306.8 51 L307.8 49.6 L308.8 48.5 L309.8 47.3 L310.8 46.2 L311.8 45 L312.8 43.6 L313.8 42 L314.8 40.2 L315.8 38.3 L316.8 36.2 L317.8 33.8" fill="none" stroke="#000" stroke-width="1.6"/>
<g fill="#000"><rect x="48" y="156.8" width="5.3" height="5.3" rx="1.6"/><rect x="51.9" y="168.8" width="5.3" height="5.3" rx="1.6"/><rect x="55.9" y="175.7" width="5.3" height="5.3" rx="1.6"/><rect x="59.9" y="181" width="5.3" height="5.3" rx="1.6"/><rect x="63.9" y="186.2" width="5.3" height="5.3" rx="1.6"/><rect x="67.9" y="191.1" width="5.3" height="5.3" rx="1.6"/><rect x="71.9" y="195.1" width="5.3" height="5.3" rx="1.6"/><rect x="75.9" y="198" width="5.3" height="5.3" rx="1.6"/><rect x="79.9" y="199.8" width="5.3" height="5.3" rx="1.6"/><rect x="83.8" y="200.9" width="5.3" height="5.3" rx="1.6"/><rect x="87.8" y="200.9" width="5.3" height="5.3" rx="1.6"/><rect x="91.8" y="200.9" width="5.3" height="5.3" rx="1.6"/><rect x="95.8" y="200.7" width="5.3" height="5.3" rx="1.6"/><rect x="99.8" y="200" width="5.3" height="5.3" rx="1.6"/><rect x="103.8" y="199.2" width="5.3" height="5.3" rx="1.6"/><rect x="107.8" y="198.5" width="5.3" height="5.3" rx="1.6"/><rect x="111.8" y="197.4" width="5.3" height="5.3" rx="1.6"/><rect x="115.7" y="196.6" width="5.3" height="5.3" rx="1.6"/><rect x="119.7" y="196" width="5.3" height="5.3" rx="1.6"/><rect x="123.7" y="195.2" width="5.3" height="5.3" rx="1.6"/><rect x="127.7" y="193.8" width="5.3" height="5.3" rx="1.6"/><rect x="131.7" y="191.3" width="5.3" height="5.3" rx="1.6"/><rect x="135.7" y="188.5" width="5.3" height="5.3" rx="1.6"/><rect x="139.7" y="185.9" width="5.3" height="5.3" rx="1.6"/><rect x="143.7" y="182.5" width="5.3" height="5.3" rx="1.6"/><rect x="147.7" y="178.5" width="5.3" height="5.3" rx="1.6"/><rect x="151.6" y="175.6" width="5.3" height="5.3" rx="1.6"/><rect x="155.6" y="172.5" width="5.3" height="5.3" rx="1.6"/><rect x="159.6" y="168.6" width="5.3" height="5.3" rx="1.6"/><rect x="163.6" y="164.8" width="5.3" height="5.3" rx="1.6"/><rect x="167.6" y="161.2" width="5.3" height="5.3" rx="1.6"/><rect x="171.6" y="157.4" width="5.3" height="5.3" rx="1.6"/><rect x="175.6" y="153.8" width="5.3" height="5.3" rx="1.6"/><rect x="179.6" y="150.2" width="5.3" height="5.3" rx="1.6"/><rect x="183.5" y="145.8" width="5.3" height="5.3" rx="1.6"/><rect x="187.5" y="141" width="5.3" height="5.3" rx="1.6"/><rect x="191.5" y="137.1" width="5.3" height="5.3" rx="1.6"/><rect x="195.5" y="133.5" width="5.3" height="5.3" rx="1.6"/><rect x="199.5" y="130" width="5.3" height="5.3" rx="1.6"/><rect x="203.5" y="126.5" width="5.3" height="5.3" rx="1.6"/><rect x="207.5" y="123.2" width="5.3" height="5.3" rx="1.6"/><rect x="211.5" y="120.1" width="5.3" height="5.3" rx="1.6"/><rect x="215.4" y="117.1" width="5.3" height="5.3" rx="1.6"/><rect x="219.4" y="114.3" width="5.3" height="5.3" rx="1.6"/><rect x="223.4" y="111.8" width="5.3" height="5.3" rx="1.6"/><rect x="227.4" y="108.9" width="5.3" height="5.3" rx="1.6"/><rect x="231.4" y="104.1" width="5.3" height="5.3" rx="1.6"/><rect x="235.4" y="99.8" width="5.3" height="5.3" rx="1.6"/><rect x="239.4" y="96.5" width="5.3" height="5.3" rx="1.6"/><rect x="243.4" y="94.2" width="5.3" height="5.3" rx="1.6"/><rect x="247.4" y="92.3" width="5.3" height="5.3" rx="1.6"/><rect x="251.3" y="89.9" width="5.3" height="5.3" rx="1.6"/><rect x="255.3" y="88.1" width="5.3" height="5.3" rx="1.6"/><rect x="259.3" y="86.3" width="5.3" height="5.3" rx="1.6"/><rect x="263.3" y="84" width="5.3" height="5.3" rx="1.6"/><rect x="267.3" y="81.9" width="5.3" height="5.3" rx="1.6"/><rect x="271.3" y="79.4" width="5.3" height="5.3" rx="1.6"/><rect x="275.3" y="76.5" width="5.3" height="5.3" rx="1.6"/><rect x="279.3" y="73.3" width="5.3" height="5.3" rx="1.6"/><rect x="283.2" y="70.3" width="5.3" height="5.3" rx="1.6"/><rect x="287.2" y="67.3" width="5.3" height="5.3" rx="1.6"/><rect x="291.2" y="63.9" width="5.3" height="5.3" rx="1.6"/><rect x="295.2" y="60.2" width="5.3" height="5.3" rx="1.6"/><rect x="299.2" y="55.6" width="5.3" height="5.3" rx="1.6"/><rect x="303.2" y="49.8" width="5.3" height="5.3" rx="1.6"/><rect x="307.2" y="44.7" width="5.3" height="5.3" rx="1.6"/><rect x="311.2" y="39.3" width="5.3" height="5.3" rx="1.6"/><rect x="315.2" y="31.1" width="5.3" height="5.3" rx="1.6"/></g>
<path d="M399.5 209.8 L400.5 210.3 L401.5 210.7 L402.5 211.1 L403.5 211.5 L404.5 211.9 L405.5 212.3 L406.5 212.6 L407.5 212.9 L408.5 213.2 L409.5 213.4 L410.5 213.7 L411.5 213.9 L412.5 214.2 L413.5 214.4 L414.5 214.6 L415.5 214.8 L416.5 214.9 L417.5 215 L418.5 215 L419.5 215 L420.5 215 L421.5 215 L422.5 215 L423.5 215 L424.5 215 L425.5 215 L426.5 215 L427.5 215 L428.5 215 L429.5 215 L430.5 215 L431.5 215 L432.5 214.9 L433.5 214.8 L434.5 214.7 L435.5 214.5 L436.5 214.4 L437.5 214.2 L438.5 214 L439.5 213.9 L440.5 213.7 L441.5 213.5 L442.5 213.3 L443.5 213.1 L444.5 212.8 L445.5 212.6 L446.5 212.3 L447.5 212.1 L448.5 211.8 L449.5 211.6 L450.5 211.4 L451.5 211.2 L452.5 211 L453.5 210.9 L454.5 210.7 L455.5 210.5 L456.5 210.4 L457.5 210.2 L458.5 210 L459.5 209.8 L460.5 209.7 L461.5 209.5 L462.5 209.3 L463.5 209.1 L464.5 209 L465.5 208.8 L466.5 208.6 L467.5 208.4 L468.5 208.2 L469.5 208 L470.5 207.8 L471.5 207.5 L472.5 207.3 L473.5 207 L474.5 206.7 L475.5 206.4 L476.5 206.1 L477.5 205.8 L478.5 205.5 L479.5 205.1 L480.5 204.8 L481.5 204.4 L482.5 204 L483.5 203.6 L484.5 203.1 L485.5 202.7 L486.5 202.2 L487.5 201.8 L488.5 201.4 L489.5 200.9 L490.5 200.5 L491.5 200.1 L492.5 199.6 L493.5 199 L494.5 198.4 L495.5 197.7 L496.5 196.9 L497.5 196.1 L498.5 195.3 L499.5 194.4 L500.5 193.5 L501.5 192.6 L502.5 191.6 L503.5 190.6 L504.5 189.6 L505.5 188.5 L506.5 187.5 L507.5 186.5 L508.5 185.5 L509.5 184.4 L510.5 183.3 L511.5 182.2 L512.5 181.1 L513.5 179.9 L514.5 178.7 L515.5 177.5 L516.5 176.4 L517.5 175.3 L518.5 174.1 L519.5 173.1 L520.5 172 L521.5 171.1 L522.5 170.2 L523.5 169.4 L524.5 168.6 L525.5 167.9 L526.5 167.2 L527.5 166.6 L528.5 166.1 L529.5 165.6 L530.5 165.2 L531.5 164.8 L532.4 164.5 L533.4 164.2 L534.4 163.9 L535.4 163.6 L536.4 163.3 L537.4 163 L538.4 162.7 L539.4 162.5 L540.4 162.2 L541.4 162 L542.4 161.8 L543.4 161.5 L544.4 161.3 L545.4 161.1 L546.4 160.9 L547.4 160.7 L548.4 160.5 L549.4 160.3 L550.4 160.1 L551.4 159.9 L552.4 159.7 L553.4 159.5 L554.4 159.3 L555.4 159.1 L556.4 158.9 L557.4 158.7 L558.4 158.5 L559.4 158.2 L560.4 158 L561.4 157.7 L562.4 157.5 L563.4 157.2 L564.4 156.9 L565.4 156.5 L566.4 156.2 L567.4 155.7 L568.4 155 L569.4 154.2 L570.4 153.2 L571.4 152.2 L572.4 151.2 L573.4 150.1 L574.4 148.9 L575.4 147.6 L576.4 146.5 L577.4 145.4 L578.4 144.5 L579.4 143.5 L580.4 142.5 L581.4 141.4 L582.4 140.4 L583.4 139.3 L584.4 138.2 L585.4 137.2 L586.4 136 L587.4 134.9 L588.4 133.7 L589.4 132.4 L590.4 131 L591.4 129.6 L592.4 128.1 L593.4 126.7 L594.4 125.3 L595.4 123.9 L596.4 122.6 L597.4 121.3 L598.4 120.1 L599.4 118.9 L600.4 117.7 L601.4 116.5 L602.4 115.5 L603.4 114.5 L604.4 113.5 L605.4 112.7 L606.4 111.9 L607.4 111.1 L608.4 110.3 L609.4 109.8 L610.4 109.4 L611.4 109.1 L612.4 109 L613.4 108.8 L614.4 108.6 L615.4 108.5 L616.4 108.4 L617.4 108.3 L618.4 108.3 L619.4 108.3 L620.4 108.3 L621.4 108.4 L622.4 108.5 L623.4 108.6 L624.4 108.6 L625.4 108.7 L626.4 108.8 L627.4 109 L628.4 109.1 L629.4 109.2 L630.4 109.4 L631.4 109.5 L632.4 109.7 L633.4 109.9 L634.4 110 L635.4 110.2 L636.4 110.4 L637.4 110.5 L638.4 110.7 L639.4 110.9 L640.4 111.1 L641.4 111.3 L642.4 111.5 L643.4 111.8 L644.4 112 L645.4 112.2 L646.4 112.4 L647.4 112.5 L648.4 112.7 L649.4 112.9 L650.4 113 L651.4 113.2 L652.4 113.4 L653.4 113.6 L654.4 113.8 L655.4 114 L656.4 114.3 L657.4 114.7 L658.4 115.3 L659.4 115.9 L660.4 116.6 L661.4 117.3 L662.4 118.2 L663.4 119.3 L664.4 120.4" fill="none" stroke="#00ff00" stroke-width="1.2"/>
<g fill="#00ff00"><path d="M399.5 212.6L402.2 207.4H396.8Z"/><path d="M401.5 213.3L404.3 208.1H398.8Z"/><path d="M403.5 214.5L406.3 209.3H400.8Z"/><path d="M405.5 215.4L408.3 210.2H402.8Z"/><path d="M407.5 216.3L410.3 211.1H404.8Z"/><path d="M409.5 216.5L412.3 211.3H406.8Z"/><path d="M411.5 216.8L414.3 211.6H408.8Z"/><path d="M413.5 217.2L416.3 212H410.8Z"/><path d="M415.6 218L418.3 212.8H412.8Z"/><path d="M417.6 218.5L420.3 213.3H414.8Z"/><path d="M419.6 218.1L422.3 212.9H416.8Z"/><path d="M421.6 217.7L424.3 212.4H418.8Z"/><path d="M423.6 217.7L426.3 212.5H420.8Z"/><path d="M425.6 218.5L428.3 213.3H422.8Z"/><path d="M427.6 218.1L430.3 212.9H424.8Z"/><path d="M429.6 217.5L432.4 212.3H426.9Z"/><path d="M431.6 218L434.4 212.7H428.9Z"/><path d="M433.6 217.5L436.4 212.2H430.9Z"/><path d="M435.6 217.3L438.4 212.1H432.9Z"/><path d="M437.6 217.1L440.4 211.8H434.9Z"/><path d="M439.6 216.7L442.4 211.4H436.9Z"/><path d="M441.6 216.7L444.4 211.5H438.9Z"/><path d="M443.6 216L446.4 210.8H440.9Z"/><path d="M445.7 215.4L448.4 210.2H442.9Z"/><path d="M447.7 215.2L450.4 209.9H444.9Z"/><path d="M449.7 214.8L452.4 209.6H446.9Z"/><path d="M451.7 213.7L454.4 208.5H448.9Z"/><path d="M453.7 213.8L456.4 208.6H450.9Z"/><path d="M455.7 213.2L458.4 208H452.9Z"/><path d="M457.7 213.1L460.4 207.9H454.9Z"/><path d="M459.7 212.4L462.5 207.2H457Z"/><path d="M461.7 212.5L464.5 207.3H459Z"/><path d="M463.7 212.1L466.5 206.9H461Z"/><path d="M465.7 211.7L468.5 206.5H463Z"/><path d="M467.7 211.1L470.5 205.8H465Z"/><path d="M469.7 210.8L472.5 205.6H467Z"/><path d="M471.7 210.1L474.5 204.9H469Z"/><path d="M473.8 209.5L476.5 204.3H471Z"/><path d="M475.8 209.4L478.5 204.2H473Z"/><path d="M477.8 208.4L480.5 203.2H475Z"/><path d="M479.8 208.4L482.5 203.2H477Z"/><path d="M481.8 207.5L484.5 202.3H479Z"/><path d="M483.8 205.9L486.5 200.6H481Z"/><path d="M485.8 205.6L488.5 200.4H483Z"/><path d="M487.8 204.3L490.6 199.1H485.1Z"/><path d="M489.8 203.8L492.6 198.6H487.1Z"/><path d="M491.8 202.9L494.6 197.7H489.1Z"/><path d="M493.8 201.2L496.6 196H491.1Z"/><path d="M495.8 200.4L498.6 195.1H493.1Z"/><path d="M497.8 198.7L500.6 193.5H495.1Z"/><path d="M499.8 197.4L502.6 192.2H497.1Z"/><path d="M501.8 194.9L504.6 189.6H499.1Z"/><path d="M503.9 193.4L506.6 188.2H501.1Z"/><path d="M505.9 190.8L508.6 185.6H503.1Z"/><path d="M507.9 189L510.6 183.8H505.1Z"/><path d="M509.9 186.7L512.6 181.5H507.1Z"/><path d="M511.9 185.2L514.6 180H509.1Z"/><path d="M513.9 182.6L516.6 177.3H511.1Z"/><path d="M515.9 180.7L518.6 175.5H513.1Z"/><path d="M517.9 178L520.7 172.7H515.2Z"/><path d="M519.9 175.9L522.7 170.6H517.2Z"/><path d="M521.9 173.9L524.7 168.7H519.2Z"/><path d="M523.9 171.9L526.7 166.7H521.2Z"/><path d="M525.9 170.6L528.7 165.3H523.2Z"/><path d="M527.9 169.8L530.7 164.5H525.2Z"/><path d="M529.9 168.3L532.7 163.1H527.2Z"/><path d="M532 167.7L534.7 162.5H529.2Z"/><path d="M534 167L536.7 161.8H531.2Z"/><path d="M536 166.6L538.7 161.4H533.2Z"/><path d="M538 165.8L540.7 160.5H535.2Z"/><path d="M540 165.3L542.7 160.1H537.2Z"/><path d="M542 165L544.7 159.7H539.2Z"/><path d="M544 164.5L546.7 159.2H541.2Z"/><path d="M546 163.7L548.7 158.5H543.2Z"/><path d="M548 163.8L550.8 158.6H545.3Z"/><path d="M550 162.8L552.8 157.6H547.3Z"/><path d="M552 162.5L554.8 157.2H549.3Z"/><path d="M554 162L556.8 156.8H551.3Z"/><path d="M556 162.3L558.8 157.1H553.3Z"/><path d="M558 161.5L560.8 156.2H555.3Z"/><path d="M560 160.8L562.8 155.6H557.3Z"/><path d="M562.1 160.2L564.8 155H559.3Z"/><path d="M564.1 160.2L566.8 154.9H561.3Z"/><path d="M566.1 159L568.8 153.8H563.3Z"/><path d="M568.1 157.9L570.8 152.7H565.3Z"/><path d="M570.1 156.8L572.8 151.5H567.3Z"/><path d="M572.1 154.2L574.8 149H569.3Z"/><path d="M574.1 152.2L576.8 147H571.3Z"/><path d="M576.1 149.9L578.9 144.6H573.4Z"/><path d="M578.1 147.7L580.9 142.4H575.4Z"/><path d="M580.1 145.8L582.9 140.6H577.4Z"/><path d="M582.1 144.1L584.9 138.9H579.4Z"/><path d="M584.1 141.4L586.9 136.2H581.4Z"/><path d="M586.1 139L588.9 133.8H583.4Z"/><path d="M588.1 136.5L590.9 131.3H585.4Z"/><path d="M590.1 134.4L592.9 129.1H587.4Z"/><path d="M592.2 131.5L594.9 126.2H589.4Z"/><path d="M594.2 128.7L596.9 123.5H591.4Z"/><path d="M596.2 125.8L598.9 120.6H593.4Z"/><path d="M598.2 123.3L600.9 118.1H595.4Z"/><path d="M600.2 120.8L602.9 115.6H597.4Z"/><path d="M602.2 118.6L604.9 113.3H599.4Z"/><path d="M604.2 116.8L606.9 111.6H601.4Z"/><path d="M606.2 115L609 109.7H603.5Z"/><path d="M608.2 113.5L611 108.3H605.5Z"/><path d="M610.2 113L613 107.8H607.5Z"/><path d="M612.2 112.2L615 106.9H609.5Z"/><path d="M614.2 111.2L617 106H611.5Z"/><path d="M616.2 112L619 106.7H613.5Z"/><path d="M618.2 111.4L621 106.2H615.5Z"/><path d="M620.2 111.1L623 105.9H617.5Z"/><path d="M622.3 111.8L625 106.5H619.5Z"/><path d="M624.3 111.7L627 106.4H621.5Z"/><path d="M626.3 111.7L629 106.4H623.5Z"/><path d="M628.3 111.9L631 106.7H625.5Z"/><path d="M630.3 112.1L633 106.9H627.5Z"/><path d="M632.3 112.7L635 107.5H629.5Z"/><path d="M634.3 113.4L637 108.1H631.5Z"/><path d="M636.3 113.3L639.1 108.1H633.6Z"/><path d="M638.3 113.9L641.1 108.6H635.6Z"/><path d="M640.3 114.7L643.1 109.5H637.6Z"/><path d="M642.3 114.2L645.1 109H639.6Z"/><path d="M644.3 115L647.1 109.8H641.6Z"/><path d="M646.3 115.3L649.1 110.1H643.6Z"/><path d="M648.3 115.4L651.1 110.2H645.6Z"/><path d="M650.4 115.7L653.1 110.5H647.6Z"/><path d="M652.4 116.4L655.1 111.2H649.6Z"/><path d="M654.4 116.9L657.1 111.7H651.6Z"/><path d="M656.4 117.2L659.1 112H653.6Z"/><path d="M658.4 118.3L661.1 113.1H655.6Z"/><path d="M660.4 119.8L663.1 114.6H657.6Z"/><path d="M662.4 121.3L665.1 116.1H659.6Z"/><path d="M664.4 123.7L667.1 118.5H661.6Z"/></g>
<path d="M399.5 204.3 L400.5 204.6 L401.5 204.9 L402.5 205.2 L403.5 205.5 L404.5 205.8 L405.5 206.1 L406.5 206.4 L407.5 206.6 L408.5 206.8 L409.5 207.1 L410.5 207.3 L411.5 207.5 L412.5 207.6 L413.5 207.8 L414.5 207.9 L415.5 208.1 L416.5 208.2 L417.5 208.4 L418.5 208.5 L419.5 208.6 L420.5 208.7 L421.5 208.8 L422.5 208.9 L423.5 208.9 L424.5 209 L425.5 209 L426.5 209 L427.5 209 L428.5 209 L429.5 209 L430.5 209 L431.5 209 L432.5 209 L433.5 209 L434.5 209 L435.5 209 L436.5 209 L437.5 209 L438.5 209 L439.5 208.9 L440.5 208.9 L441.5 208.8 L442.5 208.6 L443.5 208.5 L444.5 208.4 L445.5 208.2 L446.5 208.1 L447.5 207.9 L448.5 207.7 L449.5 207.6 L450.5 207.4 L451.5 207.3 L452.5 207.1 L453.5 206.9 L454.5 206.8 L455.5 206.6 L456.5 206.4 L457.5 206.1 L458.5 205.9 L459.5 205.6 L460.5 205.4 L461.5 205 L462.5 204.6 L463.5 204.1 L464.5 203.7 L465.5 203.2 L466.5 202.7 L467.5 202.3 L468.5 201.8 L469.5 201.4 L470.5 200.9 L471.5 200.5 L472.5 200 L473.5 199.6 L474.5 199.2 L475.5 198.7 L476.5 198.3 L477.5 197.9 L478.5 197.6 L479.5 197.2 L480.5 196.9 L481.5 196.5 L482.5 196.1 L483.5 195.7 L484.5 195.3 L485.5 194.8 L486.5 194.2 L487.5 193.6 L488.5 193 L489.5 192.3 L490.5 191.6 L491.5 190.9 L492.5 190.1 L493.5 189.4 L494.5 188.5 L495.5 187.7 L496.5 186.8 L497.5 185.9 L498.5 184.9 L499.5 183.8 L500.5 182.8 L501.5 181.7 L502.5 180.7 L503.5 179.8 L504.5 178.8 L505.5 177.9 L506.5 176.9 L507.5 176 L508.5 175.1 L509.5 174.1 L510.5 173.2 L511.5 172.3 L512.5 171.4 L513.5 170.5 L514.5 169.6 L515.5 168.7 L516.5 167.7 L517.5 166.8 L518.5 165.9 L519.5 165 L520.5 164 L521.5 163.1 L522.5 162.1 L523.5 161.1 L524.5 160.2 L525.5 159.3 L526.5 158.5 L527.5 157.5 L528.5 156.6 L529.5 155.8 L530.5 155 L531.5 154.4 L532.4 153.9 L533.4 153.6 L534.4 153.3 L535.4 153.1 L536.4 152.9 L537.4 152.7 L538.4 152.5 L539.4 152.3 L540.4 152.2 L541.4 152 L542.4 151.9 L543.4 151.8 L544.4 151.6 L545.4 151.5 L546.4 151.3 L547.4 151 L548.4 150.7 L549.4 150.2 L550.4 149.8 L551.4 149.3 L552.4 148.8 L553.4 148.4 L554.4 148.1 L555.4 147.8 L556.4 147.5 L557.4 147.3 L558.4 147 L559.4 146.6 L560.4 146.1 L561.4 145.5 L562.4 144.6 L563.4 143.6 L564.4 142.4 L565.4 140.9 L566.4 139.2 L567.4 137.9 L568.4 136.8 L569.4 135.7 L570.4 134.7 L571.4 133.6 L572.4 132.4 L573.4 131.2 L574.4 129.9 L575.4 128.7 L576.4 127.6 L577.4 126.4 L578.4 125.3 L579.4 124 L580.4 122.6 L581.4 121.1 L582.4 119.5 L583.4 117.9 L584.4 116.4 L585.4 114.8 L586.4 113.4 L587.4 111.9 L588.4 110.5 L589.4 109 L590.4 107.5 L591.4 106.1 L592.4 104.7 L593.4 103.5 L594.4 102.3 L595.4 101.2 L596.4 100.3 L597.4 99.4 L598.4 98.6 L599.4 97.9 L600.4 97.2 L601.4 96.6 L602.4 96 L603.4 95.5 L604.4 95.2 L605.4 94.9 L606.4 94.6 L607.4 94.3 L608.4 94.1 L609.4 93.9 L610.4 93.7 L611.4 93.5 L612.4 93.3 L613.4 93.2 L614.4 93.1 L615.4 93.1 L616.4 93 L617.4 92.9 L618.4 92.9 L619.4 92.8 L620.4 92.8 L621.4 92.8 L622.4 92.8 L623.4 92.8 L624.4 92.9 L625.4 92.9 L626.4 93 L627.4 93.1 L628.4 93.2 L629.4 93.3 L630.4 93.4 L631.4 93.5 L632.4 93.7 L633.4 93.8 L634.4 93.9 L635.4 94 L636.4 94.1 L637.4 94.3 L638.4 94.4 L639.4 94.5 L640.4 94.7 L641.4 94.9 L642.4 95 L643.4 95.2 L644.4 95.4 L645.4 95.6 L646.4 95.8 L647.4 96 L648.4 96.2 L649.4 96.4 L650.4 96.7 L651.4 96.9 L652.4 97.2 L653.4 97.5 L654.4 97.8 L655.4 98.2 L656.4 98.5 L657.4 99 L658.4 99.4 L659.4 100 L660.4 100.5 L661.4 101.2 L662.4 101.8 L663.4 102.5 L664.4 103.2" fill="none" stroke="#0000ff" stroke-width="1.2"/>
<g fill="#0000ff"><path d="M399.5 201.3L402.2 204.5L399.5 207.7L396.8 204.5Z"/><path d="M402.5 202.4L405.3 205.6L402.5 208.8L399.8 205.6Z"/><path d="M405.5 202.4L408.3 205.6L405.5 208.8L402.8 205.6Z"/><path d="M408.5 203.7L411.3 206.8L408.5 210L405.8 206.8Z"/><path d="M411.5 204.5L414.3 207.7L411.5 210.8L408.8 207.7Z"/><path d="M414.6 205L417.3 208.2L414.6 211.4L411.8 208.2Z"/><path d="M417.6 205.3L420.3 208.5L417.6 211.7L414.8 208.5Z"/><path d="M420.6 205.9L423.3 209L420.6 212.2L417.8 209Z"/><path d="M423.6 205.8L426.3 209L423.6 212.2L420.8 209Z"/><path d="M426.6 205.9L429.3 209.1L426.6 212.3L423.8 209.1Z"/><path d="M429.6 205.9L432.4 209L429.6 212.2L426.9 209Z"/><path d="M432.6 205.6L435.4 208.8L432.6 211.9L429.9 208.8Z"/><path d="M435.6 205.7L438.4 208.8L435.6 212L432.9 208.8Z"/><path d="M438.6 205.9L441.4 209L438.6 212.2L435.9 209Z"/><path d="M441.6 205.5L444.4 208.6L441.6 211.8L438.9 208.6Z"/><path d="M444.7 205.4L447.4 208.6L444.7 211.8L441.9 208.6Z"/><path d="M447.7 205L450.4 208.1L447.7 211.3L444.9 208.1Z"/><path d="M450.7 204.6L453.4 207.8L450.7 210.9L447.9 207.8Z"/><path d="M453.7 203.7L456.4 206.9L453.7 210.1L450.9 206.9Z"/><path d="M456.7 203.4L459.4 206.6L456.7 209.8L453.9 206.6Z"/><path d="M459.7 202.2L462.5 205.4L459.7 208.6L457 205.4Z"/><path d="M462.7 201.2L465.5 204.3L462.7 207.5L460 204.3Z"/><path d="M465.7 199.9L468.5 203.1L465.7 206.3L463 203.1Z"/><path d="M468.7 198.6L471.5 201.8L468.7 204.9L466 201.8Z"/><path d="M471.7 196.9L474.5 200L471.7 203.2L469 200Z"/><path d="M474.8 195.5L477.5 198.7L474.8 201.8L472 198.7Z"/><path d="M477.8 194.7L480.5 197.9L477.8 201.1L475 197.9Z"/><path d="M480.8 193.4L483.5 196.6L480.8 199.7L478 196.6Z"/><path d="M483.8 192.6L486.5 195.8L483.8 199L481 195.8Z"/><path d="M486.8 191L489.5 194.1L486.8 197.3L484 194.1Z"/><path d="M489.8 189L492.6 192.2L489.8 195.3L487.1 192.2Z"/><path d="M492.8 186.7L495.6 189.9L492.8 193.1L490.1 189.9Z"/><path d="M495.8 184.4L498.6 187.6L495.8 190.7L493.1 187.6Z"/><path d="M498.8 181.3L501.6 184.5L498.8 187.6L496.1 184.5Z"/><path d="M501.8 178.4L504.6 181.6L501.8 184.7L499.1 181.6Z"/><path d="M504.9 175.2L507.6 178.3L504.9 181.5L502.1 178.3Z"/><path d="M507.9 172.4L510.6 175.6L507.9 178.7L505.1 175.6Z"/><path d="M510.9 169.5L513.6 172.7L510.9 175.9L508.1 172.7Z"/><path d="M513.9 167L516.6 170.2L513.9 173.4L511.1 170.2Z"/><path d="M516.9 164.2L519.6 167.4L516.9 170.5L514.1 167.4Z"/><path d="M519.9 161.2L522.7 164.4L519.9 167.5L517.2 164.4Z"/><path d="M522.9 158.9L525.7 162.1L522.9 165.2L520.2 162.1Z"/><path d="M525.9 155.7L528.7 158.9L525.9 162L523.2 158.9Z"/><path d="M528.9 153L531.7 156.2L528.9 159.3L526.2 156.2Z"/><path d="M532 151.1L534.7 154.2L532 157.4L529.2 154.2Z"/><path d="M535 150.4L537.7 153.6L535 156.7L532.2 153.6Z"/><path d="M538 149.4L540.7 152.6L538 155.7L535.2 152.6Z"/><path d="M541 149.1L543.7 152.2L541 155.4L538.2 152.2Z"/><path d="M544 148.6L546.7 151.7L544 154.9L541.2 151.7Z"/><path d="M547 147.7L549.8 150.9L547 154L544.3 150.9Z"/><path d="M550 147L552.8 150.1L550 153.3L547.3 150.1Z"/><path d="M553 145.6L555.8 148.8L553 152L550.3 148.8Z"/><path d="M556 144.4L558.8 147.6L556 150.8L553.3 147.6Z"/><path d="M559 143.6L561.8 146.7L559 149.9L556.3 146.7Z"/><path d="M562.1 141.5L564.8 144.7L562.1 147.8L559.3 144.7Z"/><path d="M565.1 138.1L567.8 141.2L565.1 144.4L562.3 141.2Z"/><path d="M568.1 133.9L570.8 137.1L568.1 140.2L565.3 137.1Z"/><path d="M571.1 131L573.8 134.1L571.1 137.3L568.3 134.1Z"/><path d="M574.1 127.1L576.8 130.2L574.1 133.4L571.3 130.2Z"/><path d="M577.1 123.7L579.9 126.9L577.1 130L574.4 126.9Z"/><path d="M580.1 120.1L582.9 123.2L580.1 126.4L577.4 123.2Z"/><path d="M583.1 115.3L585.9 118.4L583.1 121.6L580.4 118.4Z"/><path d="M586.1 110.7L588.9 113.9L586.1 117.1L583.4 113.9Z"/><path d="M589.1 106.5L591.9 109.7L589.1 112.9L586.4 109.7Z"/><path d="M592.2 101.7L594.9 104.9L592.2 108L589.4 104.9Z"/><path d="M595.2 98.4L597.9 101.6L595.2 104.8L592.4 101.6Z"/><path d="M598.2 95.3L600.9 98.5L598.2 101.6L595.4 98.5Z"/><path d="M601.2 93.6L603.9 96.8L601.2 100L598.4 96.8Z"/><path d="M604.2 92.1L606.9 95.3L604.2 98.4L601.4 95.3Z"/><path d="M607.2 91.1L610 94.3L607.2 97.4L604.5 94.3Z"/><path d="M610.2 90.3L613 93.5L610.2 96.6L607.5 93.5Z"/><path d="M613.2 90.1L616 93.2L613.2 96.4L610.5 93.2Z"/><path d="M616.2 89.8L619 92.9L616.2 96.1L613.5 92.9Z"/><path d="M619.2 89.7L622 92.9L619.2 96L616.5 92.9Z"/><path d="M622.3 89.5L625 92.6L622.3 95.8L619.5 92.6Z"/><path d="M625.3 89.9L628 93L625.3 96.2L622.5 93Z"/><path d="M628.3 89.8L631 93L628.3 96.1L625.5 93Z"/><path d="M631.3 90.3L634 93.5L631.3 96.6L628.5 93.5Z"/><path d="M634.3 90.7L637 93.8L634.3 97L631.5 93.8Z"/><path d="M637.3 91.4L640.1 94.5L637.3 97.7L634.6 94.5Z"/><path d="M640.3 91.2L643.1 94.4L640.3 97.5L637.6 94.4Z"/><path d="M643.3 91.9L646.1 95.1L643.3 98.3L640.6 95.1Z"/><path d="M646.3 92.8L649.1 96L646.3 99.1L643.6 96Z"/><path d="M649.3 93.1L652.1 96.3L649.3 99.4L646.6 96.3Z"/><path d="M652.4 93.8L655.1 96.9L652.4 100.1L649.6 96.9Z"/><path d="M655.4 95.1L658.1 98.2L655.4 101.4L652.6 98.2Z"/><path d="M658.4 96.2L661.1 99.4L658.4 102.5L655.6 99.4Z"/><path d="M661.4 98.2L664.1 101.3L661.4 104.5L658.6 101.3Z"/><path d="M664.4 99.9L667.1 103L664.4 106.2L661.6 103Z"/></g>
<path d="M399.5 198.4 L400.5 198.8 L401.5 199.2 L402.5 199.6 L403.5 199.9 L404.5 200.3 L405.5 200.6 L406.5 200.9 L407.5 201.2 L408.5 201.5 L409.5 201.8 L410.5 202 L411.5 202.2 L412.5 202.4 L413.5 202.6 L414.5 202.7 L415.5 202.9 L416.5 203.1 L417.5 203.2 L418.5 203.3 L419.5 203.5 L420.5 203.6 L421.5 203.7 L422.5 203.8 L423.5 203.8 L424.5 203.9 L425.5 203.9 L426.5 203.9 L427.5 203.9 L428.5 203.9 L429.5 203.9 L430.5 203.9 L431.5 203.9 L432.5 203.9 L433.4 203.9 L434.4 203.8 L435.4 203.8 L436.4 203.8 L437.4 203.8 L438.4 203.8 L439.4 203.7 L440.4 203.7 L441.4 203.6 L442.4 203.5 L443.4 203.4 L444.4 203.3 L445.4 203.1 L446.4 203 L447.4 202.8 L448.4 202.7 L449.4 202.5 L450.4 202.3 L451.4 202.1 L452.4 201.8 L453.4 201.5 L454.4 201.1 L455.4 200.7 L456.4 200.3 L457.4 199.9 L458.4 199.5 L459.4 199 L460.4 198.6 L461.4 198.1 L462.4 197.6 L463.4 197 L464.4 196.4 L465.4 195.8 L466.4 195.2 L467.4 194.5 L468.4 193.8 L469.4 193.1 L470.4 192.3 L471.4 191.5 L472.4 190.6 L473.4 189.6 L474.4 188.6 L475.4 187.6 L476.4 186.6 L477.4 185.5 L478.4 184.4 L479.4 183.4 L480.4 182.2 L481.4 181.1 L482.4 180 L483.4 178.8 L484.4 177.7 L485.4 176.6 L486.4 175.6 L487.4 174.6 L488.4 173.6 L489.4 172.6 L490.4 171.7 L491.4 170.7 L492.4 169.8 L493.4 168.8 L494.4 167.8 L495.4 166.9 L496.4 165.9 L497.4 165 L498.4 164.1 L499.3 163.3 L500.3 162.4 L501.3 161.6 L502.3 160.8 L503.3 160 L504.3 159.2 L505.3 158.5 L506.3 157.8 L507.3 157.1 L508.3 156.4 L509.3 155.8 L510.3 155.1 L511.3 154.5 L512.3 153.8 L513.3 153 L514.3 152.3 L515.3 151.5 L516.3 150.8 L517.3 150 L518.3 149.3 L519.3 148.7 L520.3 148 L521.3 147.4 L522.3 146.9 L523.3 146.3 L524.3 145.7 L525.3 145.1 L526.3 144.5 L527.3 143.9 L528.3 143.3 L529.3 142.7 L530.3 142.1 L531.3 141.4 L532.3 140.7 L533.3 140 L534.3 139.2 L535.3 138.3 L536.3 137.4 L537.3 136.5 L538.3 135.6 L539.3 134.5 L540.3 133.5 L541.3 132.4 L542.3 131.3 L543.3 130.2 L544.3 129.2 L545.3 128.1 L546.3 127.1 L547.3 126.1 L548.3 125.2 L549.3 124.2 L550.3 123.2 L551.3 122.3 L552.3 121.3 L553.3 120.3 L554.3 119.3 L555.3 118.3 L556.3 117.3 L557.3 116.4 L558.3 115.4 L559.3 114.3 L560.3 113 L561.3 111.3 L562.3 109.4 L563.3 107.4 L564.3 105.6 L565.3 104 L566.2 102.5 L567.2 101 L568.2 99.4 L569.2 97.7 L570.2 95.9 L571.2 94.1 L572.2 92.5 L573.2 91.1 L574.2 89.8 L575.2 88.5 L576.2 87.3 L577.2 86.1 L578.2 84.9 L579.2 83.8 L580.2 82.7 L581.2 81.6 L582.2 80.5 L583.2 79.4 L584.2 78.3 L585.2 77.2 L586.2 76.1 L587.2 75.1 L588.2 74.2 L589.2 73.3 L590.2 72.5 L591.2 71.7 L592.2 71.1 L593.2 70.4 L594.2 69.9 L595.2 69.3 L596.2 68.8 L597.2 68.3 L598.2 67.8 L599.2 67.4 L600.2 66.9 L601.2 66.4 L602.2 66 L603.2 65.6 L604.2 65.1 L605.2 64.7 L606.2 64.4 L607.2 64 L608.2 63.7 L609.2 63.4 L610.2 63.1 L611.2 62.8 L612.2 62.5 L613.2 62.2 L614.2 61.9 L615.2 61.7 L616.2 61.4 L617.2 61.2 L618.2 61 L619.2 60.9 L620.2 60.8 L621.2 60.8 L622.2 60.8 L623.2 60.8 L624.2 60.9 L625.2 61 L626.2 61 L627.2 61.1 L628.2 61.2 L629.2 61.3 L630.2 61.5 L631.2 61.6 L632.1 61.7 L633.1 61.9 L634.1 62.2 L635.1 62.5 L636.1 62.9 L637.1 63.2 L638.1 63.6 L639.1 64 L640.1 64.5 L641.1 64.9 L642.1 65.3 L643.1 65.8 L644.1 66.3 L645.1 66.9 L646.1 67.5 L647.1 68.1 L648.1 68.7 L649.1 69.3 L650.1 69.9 L651.1 70.4 L652.1 71 L653.1 71.5 L654.1 71.9 L655.1 72.4 L656.1 72.8 L657.1 73.3 L658.1 73.9 L659.1 74.4 L660.1 75.1 L661.1 75.8 L662.1 76.6 L663.1 77.5 L664.1 78.5 L665.1 79.5" fill="none" stroke="#ff0000" stroke-width="1.2"/>
<g fill="#ff0000"><path d="M399.5 195.4L402.2 200.6H396.8Z"/><path d="M401.5 196.2L404.2 201.5H398.7Z"/><path d="M403.5 196.8L406.2 202H400.7Z"/><path d="M405.5 197.3L408.2 202.5H402.7Z"/><path d="M407.5 198L410.2 203.3H404.7Z"/><path d="M409.5 198.4L412.2 203.7H406.7Z"/><path d="M411.5 199.2L414.2 204.4H408.7Z"/><path d="M413.5 200L416.2 205.2H410.7Z"/><path d="M415.5 199.7L418.2 204.9H412.7Z"/><path d="M417.5 200L420.2 205.2H414.7Z"/><path d="M419.5 200.6L422.2 205.8H416.7Z"/><path d="M421.5 200.8L424.2 206H418.7Z"/><path d="M423.5 200.9L426.2 206.1H420.7Z"/><path d="M425.5 200.6L428.2 205.8H422.7Z"/><path d="M427.5 200.9L430.2 206.1H424.7Z"/><path d="M429.5 201.1L432.2 206.3H426.7Z"/><path d="M431.5 200.4L434.2 205.7H428.7Z"/><path d="M433.4 200.7L436.2 205.9H430.7Z"/><path d="M435.4 200.2L438.2 205.5H432.7Z"/><path d="M437.4 200.4L440.2 205.6H434.7Z"/><path d="M439.4 200.1L442.2 205.4H436.7Z"/><path d="M441.4 200.5L444.2 205.7H438.7Z"/><path d="M443.4 200L446.2 205.2H440.7Z"/><path d="M445.4 200.2L448.2 205.4H442.7Z"/><path d="M447.4 199.8L450.2 205.1H444.7Z"/><path d="M449.4 199.4L452.2 204.6H446.7Z"/><path d="M451.4 198.3L454.2 203.5H448.7Z"/><path d="M453.4 198.3L456.2 203.5H450.7Z"/><path d="M455.4 197.7L458.2 202.9H452.7Z"/><path d="M457.4 196.9L460.2 202.1H454.7Z"/><path d="M459.4 195.5L462.2 200.7H456.7Z"/><path d="M461.4 194.9L464.2 200.1H458.7Z"/><path d="M463.4 193.7L466.2 198.9H460.7Z"/><path d="M465.4 192.5L468.2 197.8H462.7Z"/><path d="M467.4 191.8L470.1 197H464.6Z"/><path d="M469.4 189.8L472.1 195H466.6Z"/><path d="M471.4 188.4L474.1 193.7H468.6Z"/><path d="M473.4 186.8L476.1 192.1H470.6Z"/><path d="M475.4 184.4L478.1 189.6H472.6Z"/><path d="M477.4 182.5L480.1 187.7H474.6Z"/><path d="M479.4 180.4L482.1 185.6H476.6Z"/><path d="M481.4 178.1L484.1 183.3H478.6Z"/><path d="M483.4 175.4L486.1 180.6H480.6Z"/><path d="M485.4 173.6L488.1 178.8H482.6Z"/><path d="M487.4 172L490.1 177.2H484.6Z"/><path d="M489.4 169.1L492.1 174.4H486.6Z"/><path d="M491.4 168L494.1 173.2H488.6Z"/><path d="M493.4 165.8L496.1 171H490.6Z"/><path d="M495.4 163.7L498.1 168.9H492.6Z"/><path d="M497.4 162.6L500.1 167.8H494.6Z"/><path d="M499.3 160.5L502.1 165.7H496.6Z"/><path d="M501.3 158.2L504.1 163.4H498.6Z"/><path d="M503.3 157L506.1 162.2H500.6Z"/><path d="M505.3 155.6L508.1 160.8H502.6Z"/><path d="M507.3 154L510.1 159.2H504.6Z"/><path d="M509.3 153L512.1 158.2H506.6Z"/><path d="M511.3 151.4L514.1 156.6H508.6Z"/><path d="M513.3 150.2L516.1 155.4H510.6Z"/><path d="M515.3 148.9L518.1 154.2H512.6Z"/><path d="M517.3 146.8L520.1 152H514.6Z"/><path d="M519.3 145.7L522.1 150.9H516.6Z"/><path d="M521.3 144.3L524.1 149.5H518.6Z"/><path d="M523.3 143.3L526.1 148.5H520.6Z"/><path d="M525.3 141.7L528.1 147H522.6Z"/><path d="M527.3 140.7L530.1 145.9H524.6Z"/><path d="M529.3 139.6L532.1 144.8H526.6Z"/><path d="M531.3 138.6L534.1 143.9H528.6Z"/><path d="M533.3 137.3L536 142.5H530.5Z"/><path d="M535.3 134.9L538 140.1H532.5Z"/><path d="M537.3 133.3L540 138.5H534.5Z"/><path d="M539.3 131.7L542 136.9H536.5Z"/><path d="M541.3 128.8L544 134H538.5Z"/><path d="M543.3 127.1L546 132.3H540.5Z"/><path d="M545.3 125.1L548 130.3H542.5Z"/><path d="M547.3 123.5L550 128.7H544.5Z"/><path d="M549.3 121.4L552 126.6H546.5Z"/><path d="M551.3 119.1L554 124.4H548.5Z"/><path d="M553.3 117.2L556 122.4H550.5Z"/><path d="M555.3 115.2L558 120.5H552.5Z"/><path d="M557.3 113.8L560 119.1H554.5Z"/><path d="M559.3 111.2L562 116.4H556.5Z"/><path d="M561.3 108.2L564 113.4H558.5Z"/><path d="M563.3 104.4L566 109.7H560.5Z"/><path d="M565.3 100.9L568 106.2H562.5Z"/><path d="M567.2 97.9L570 103.1H564.5Z"/><path d="M569.2 94.3L572 99.6H566.5Z"/><path d="M571.2 91L574 96.3H568.5Z"/><path d="M573.2 87.9L576 93.1H570.5Z"/><path d="M575.2 85.8L578 91H572.5Z"/><path d="M577.2 83.3L580 88.5H574.5Z"/><path d="M579.2 80.7L582 86H576.5Z"/><path d="M581.2 78.8L584 84H578.5Z"/><path d="M583.2 76.3L586 81.5H580.5Z"/><path d="M585.2 74.5L588 79.7H582.5Z"/><path d="M587.2 72.1L590 77.3H584.5Z"/><path d="M589.2 70.5L592 75.7H586.5Z"/><path d="M591.2 68.3L594 73.6H588.5Z"/><path d="M593.2 67.5L596 72.7H590.5Z"/><path d="M595.2 65.8L598 71H592.5Z"/><path d="M597.2 64.7L600 69.9H594.5Z"/><path d="M599.2 64.3L601.9 69.5H596.4Z"/><path d="M601.2 63.2L603.9 68.4H598.4Z"/><path d="M603.2 62.6L605.9 67.8H600.4Z"/><path d="M605.2 62.4L607.9 67.6H602.4Z"/><path d="M607.2 60.7L609.9 66H604.4Z"/><path d="M609.2 60.2L611.9 65.4H606.4Z"/><path d="M611.2 59.8L613.9 65.1H608.4Z"/><path d="M613.2 59.3L615.9 64.5H610.4Z"/><path d="M615.2 58.6L617.9 63.8H612.4Z"/><path d="M617.2 58.1L619.9 63.3H614.4Z"/><path d="M619.2 58.1L621.9 63.3H616.4Z"/><path d="M621.2 57.9L623.9 63.2H618.4Z"/><path d="M623.2 57.5L625.9 62.7H620.4Z"/><path d="M625.2 57.9L627.9 63.1H622.4Z"/><path d="M627.2 58.1L629.9 63.3H624.4Z"/><path d="M629.2 58L631.9 63.2H626.4Z"/><path d="M631.2 58.6L633.9 63.9H628.4Z"/><path d="M633.1 58.7L635.9 63.9H630.4Z"/><path d="M635.1 59.8L637.9 65H632.4Z"/><path d="M637.1 60.3L639.9 65.5H634.4Z"/><path d="M639.1 61L641.9 66.3H636.4Z"/><path d="M641.1 61.7L643.9 66.9H638.4Z"/><path d="M643.1 62.7L645.9 68H640.4Z"/><path d="M645.1 63.3L647.9 68.5H642.4Z"/><path d="M647.1 64.7L649.9 69.9H644.4Z"/><path d="M649.1 66.4L651.9 71.6H646.4Z"/><path d="M651.1 66.8L653.9 72H648.4Z"/><path d="M653.1 68.7L655.9 73.9H650.4Z"/><path d="M655.1 68.8L657.9 74.1H652.4Z"/><path d="M657.1 70.5L659.9 75.8H654.4Z"/><path d="M659.1 71.1L661.9 76.4H656.4Z"/><path d="M661.1 73L663.9 78.2H658.4Z"/><path d="M663.1 74.6L665.9 79.8H660.4Z"/><path d="M665.1 76L667.9 81.2H662.4Z"/></g>
<path d="M399.5 191.3 L400.5 191.4 L401.5 191.6 L402.5 191.8 L403.5 192 L404.5 192.2 L405.5 192.5 L406.5 192.8 L407.5 193.1 L408.5 193.5 L409.5 193.8 L410.5 194.3 L411.5 194.9 L412.5 195.5 L413.5 196.1 L414.5 196.7 L415.5 197.1 L416.5 197.3 L417.5 197.5 L418.5 197.7 L419.5 197.9 L420.5 198 L421.5 198.1 L422.5 198.2 L423.5 198.3 L424.5 198.4 L425.5 198.4 L426.4 198.4 L427.4 198.4 L428.4 198.4 L429.4 198.4 L430.4 198.4 L431.4 198.4 L432.4 198.4 L433.4 198.4 L434.4 198.4 L435.4 198.4 L436.4 198.4 L437.4 198.4 L438.4 198.4 L439.4 198.3 L440.4 198.2 L441.4 198 L442.4 197.8 L443.4 197.6 L444.4 197.4 L445.4 197.1 L446.4 196.9 L447.4 196.7 L448.4 196.4 L449.4 196.2 L450.4 196 L451.4 195.9 L452.4 195.7 L453.4 195.4 L454.4 195.2 L455.4 194.9 L456.4 194.5 L457.4 194.1 L458.4 193.6 L459.4 193 L460.4 192.5 L461.4 191.8 L462.4 191.1 L463.4 190.4 L464.4 189.6 L465.4 188.8 L466.4 187.9 L467.4 187 L468.4 186.1 L469.4 185.1 L470.4 184 L471.4 182.9 L472.4 181.6 L473.4 180.3 L474.4 178.9 L475.4 177.4 L476.4 175.9 L477.4 174.3 L478.4 172.7 L479.3 171.3 L480.3 170 L481.3 168.6 L482.3 167.4 L483.3 166.2 L484.3 165 L485.3 163.9 L486.3 163 L487.3 162 L488.3 161.1 L489.3 160.3 L490.3 159.4 L491.3 158.5 L492.3 157.5 L493.3 156.4 L494.3 155.4 L495.3 154.3 L496.3 153.2 L497.3 152.2 L498.3 151.2 L499.3 150.2 L500.3 149.3 L501.3 148.4 L502.3 147.5 L503.3 146.7 L504.3 145.9 L505.3 145.2 L506.3 144.6 L507.3 144.1 L508.3 143.7 L509.3 143.3 L510.3 142.8 L511.3 142.3 L512.3 141.6 L513.3 140.7 L514.3 139.7 L515.3 138.5 L516.3 137.2 L517.3 135.9 L518.3 134.6 L519.3 133.3 L520.3 132 L521.3 130.9 L522.3 129.7 L523.3 128.5 L524.3 127.4 L525.3 126.2 L526.3 125.1 L527.3 123.9 L528.3 122.7 L529.3 121.5 L530.3 120.2 L531.3 119 L532.2 117.7 L533.2 116.4 L534.2 115.2 L535.2 113.9 L536.2 112.6 L537.2 111.4 L538.2 110 L539.2 108.7 L540.2 107.4 L541.2 106.1 L542.2 104.8 L543.2 103.6 L544.2 102.6 L545.2 101.6 L546.2 100.8 L547.2 100.1 L548.2 99.4 L549.2 98.7 L550.2 97.9 L551.2 97 L552.2 95.8 L553.2 94.4 L554.2 92.9 L555.2 91.5 L556.2 90.1 L557.2 88.8 L558.2 87.5 L559.2 86.3 L560.2 85.1 L561.2 84 L562.2 82.8 L563.2 81.5 L564.2 80 L565.2 78.4 L566.2 76.7 L567.2 75.1 L568.2 73.4 L569.2 71.7 L570.2 70 L571.2 68.4 L572.2 66.8 L573.2 65.3 L574.2 63.7 L575.2 62.2 L576.2 60.7 L577.2 59.2 L578.2 57.7 L579.2 56.2 L580.2 54.7 L581.2 53.3 L582.2 51.9 L583.2 50.5 L584.2 49.1 L585.2 47.8 L586.1 46.5 L587.1 45.1 L588.1 43.8 L589.1 42.6 L590.1 41.6 L591.1 40.8 L592.1 40.1 L593.1 39.5 L594.1 38.9 L595.1 38.5 L596.1 38.1 L597.1 37.7 L598.1 37.4 L599.1 37 L600.1 36.7 L601.1 36.3 L602.1 36 L603.1 35.6 L604.1 35.3 L605.1 35 L606.1 34.8 L607.1 34.5 L608.1 34.3 L609.1 34.1 L610.1 33.9 L611.1 33.7 L612.1 33.5 L613.1 33.4 L614.1 33.3 L615.1 33.3 L616.1 33.3 L617.1 33.3 L618.1 33.4 L619.1 33.4 L620.1 33.5 L621.1 33.6 L622.1 33.7 L623.1 33.8 L624.1 33.9 L625.1 34.1 L626.1 34.2 L627.1 34.5 L628.1 34.8 L629.1 35.1 L630.1 35.5 L631.1 36 L632.1 36.4 L633.1 36.9 L634.1 37.4 L635.1 37.8 L636.1 38.3 L637.1 38.8 L638.1 39.2 L639 39.8 L640 40.3 L641 40.8 L642 41.3 L643 41.9 L644 42.4 L645 43 L646 43.5 L647 44.1 L648 44.7 L649 45.3 L650 45.9 L651 46.5 L652 47.1 L653 47.7 L654 48.3 L655 48.9 L656 49.5 L657 50.1 L658 50.7 L659 51.3 L660 51.9 L661 52.5 L662 53.1 L663 53.8 L664 54.4 L665 55" fill="none" stroke="#000" stroke-width="2"/>
<g fill="#000"><circle cx="399.5" cy="191.3" r="2.6"/><circle cx="403.5" cy="192" r="2.6"/><circle cx="407.5" cy="193.2" r="2.6"/><circle cx="411.6" cy="195" r="2.6"/><circle cx="415.6" cy="197.1" r="2.6"/><circle cx="419.6" cy="197.9" r="2.6"/><circle cx="423.6" cy="198.3" r="2.6"/><circle cx="427.7" cy="198.4" r="2.6"/><circle cx="431.7" cy="198.4" r="2.6"/><circle cx="435.7" cy="198.4" r="2.6"/><circle cx="439.7" cy="198.2" r="2.6"/><circle cx="443.8" cy="197.5" r="2.6"/><circle cx="447.8" cy="196.6" r="2.6"/><circle cx="451.8" cy="195.8" r="2.6"/><circle cx="455.8" cy="194.7" r="2.6"/><circle cx="459.8" cy="192.8" r="2.6"/><circle cx="463.9" cy="190" r="2.6"/><circle cx="467.9" cy="186.6" r="2.6"/><circle cx="471.9" cy="182.2" r="2.6"/><circle cx="475.9" cy="176.5" r="2.6"/><circle cx="480" cy="170.5" r="2.6"/><circle cx="484" cy="165.4" r="2.6"/><circle cx="488" cy="161.4" r="2.6"/><circle cx="492" cy="157.8" r="2.6"/><circle cx="496" cy="153.5" r="2.6"/><circle cx="500.1" cy="149.5" r="2.6"/><circle cx="504.1" cy="146" r="2.6"/><circle cx="508.1" cy="143.8" r="2.6"/><circle cx="512.1" cy="141.7" r="2.6"/><circle cx="516.2" cy="137.4" r="2.6"/><circle cx="520.2" cy="132.1" r="2.6"/><circle cx="524.2" cy="127.5" r="2.6"/><circle cx="528.2" cy="122.7" r="2.6"/><circle cx="532.2" cy="117.7" r="2.6"/><circle cx="536.3" cy="112.6" r="2.6"/><circle cx="540.3" cy="107.3" r="2.6"/><circle cx="544.3" cy="102.5" r="2.6"/><circle cx="548.3" cy="99.4" r="2.6"/><circle cx="552.4" cy="95.6" r="2.6"/><circle cx="556.4" cy="89.9" r="2.6"/><circle cx="560.4" cy="84.9" r="2.6"/><circle cx="564.4" cy="79.6" r="2.6"/><circle cx="568.5" cy="72.9" r="2.6"/><circle cx="572.5" cy="66.4" r="2.6"/><circle cx="576.5" cy="60.2" r="2.6"/><circle cx="580.5" cy="54.2" r="2.6"/><circle cx="584.5" cy="48.6" r="2.6"/><circle cx="588.6" cy="43.3" r="2.6"/><circle cx="592.6" cy="39.8" r="2.6"/><circle cx="596.6" cy="37.9" r="2.6"/><circle cx="600.6" cy="36.5" r="2.6"/><circle cx="604.7" cy="35.1" r="2.6"/><circle cx="608.7" cy="34.2" r="2.6"/><circle cx="612.7" cy="33.5" r="2.6"/><circle cx="616.7" cy="33.3" r="2.6"/><circle cx="620.8" cy="33.6" r="2.6"/><circle cx="624.8" cy="34" r="2.6"/><circle cx="628.8" cy="35" r="2.6"/><circle cx="632.8" cy="36.8" r="2.6"/><circle cx="636.8" cy="38.7" r="2.6"/><circle cx="640.9" cy="40.7" r="2.6"/><circle cx="644.9" cy="42.9" r="2.6"/><circle cx="648.9" cy="45.2" r="2.6"/><circle cx="652.9" cy="47.6" r="2.6"/><circle cx="657" cy="50.1" r="2.6"/><circle cx="661" cy="52.5" r="2.6"/><circle cx="665" cy="55" r="2.6"/></g>

<path d="M37.6 3V226.4H337.3V3Z" fill="none" stroke="#000" stroke-width="1.5"/>
<line x1="33" x2="37.6" y1="16" y2="16" stroke="#000" stroke-width="1.3"/><text x="31.2" y="20" class="tk" text-anchor="end">4. 5</text>
<line x1="33" x2="37.6" y1="59.6" y2="59.6" stroke="#000" stroke-width="1.3"/><text x="31.2" y="63.6" class="tk" text-anchor="end">4. 0</text>
<line x1="33" x2="37.6" y1="103.3" y2="103.3" stroke="#000" stroke-width="1.3"/><text x="31.2" y="107.3" class="tk" text-anchor="end">3. 5</text>
<line x1="33" x2="37.6" y1="146.9" y2="146.9" stroke="#000" stroke-width="1.3"/><text x="31.2" y="150.9" class="tk" text-anchor="end">3. 0</text>
<line x1="33" x2="37.6" y1="190.6" y2="190.6" stroke="#000" stroke-width="1.3"/><text x="31.2" y="194.6" class="tk" text-anchor="end">2. 5</text>
<line x1="35.2" x2="37.6" y1="37.8" y2="37.8" stroke="#000" stroke-width="1.3"/><line x1="35.2" x2="37.6" y1="81.5" y2="81.5" stroke="#000" stroke-width="1.3"/><line x1="35.2" x2="37.6" y1="125.1" y2="125.1" stroke="#000" stroke-width="1.3"/><line x1="35.2" x2="37.6" y1="168.8" y2="168.8" stroke="#000" stroke-width="1.3"/><line x1="35.2" x2="37.6" y1="212.4" y2="212.4" stroke="#000" stroke-width="1.3"/><line x1="37.6" x2="37.6" y1="226" y2="229.8" stroke="#000" stroke-width="1.3"/><text x="37.6" y="242.5" class="tk" text-anchor="middle">0</text>
<line x1="77.6" x2="77.6" y1="226" y2="229.8" stroke="#000" stroke-width="1.3"/><text x="77.6" y="242.5" class="tk" text-anchor="middle">100</text>
<line x1="117.6" x2="117.6" y1="226" y2="229.8" stroke="#000" stroke-width="1.3"/><text x="117.6" y="242.5" class="tk" text-anchor="middle">200</text>
<line x1="157.6" x2="157.6" y1="226" y2="229.8" stroke="#000" stroke-width="1.3"/><text x="157.6" y="242.5" class="tk" text-anchor="middle">300</text>
<line x1="197.6" x2="197.6" y1="226" y2="229.8" stroke="#000" stroke-width="1.3"/><text x="197.6" y="242.5" class="tk" text-anchor="middle">400</text>
<line x1="237.6" x2="237.6" y1="226" y2="229.8" stroke="#000" stroke-width="1.3"/><text x="237.6" y="242.5" class="tk" text-anchor="middle">500</text>
<line x1="277.6" x2="277.6" y1="226" y2="229.8" stroke="#000" stroke-width="1.3"/><text x="277.6" y="242.5" class="tk" text-anchor="middle">600</text>
<line x1="317.6" x2="317.6" y1="226" y2="229.8" stroke="#000" stroke-width="1.3"/><text x="317.6" y="242.5" class="tk" text-anchor="middle">700</text>
<line x1="57.6" x2="57.6" y1="226" y2="228.3" stroke="#000" stroke-width="1.3"/><line x1="97.6" x2="97.6" y1="226" y2="228.3" stroke="#000" stroke-width="1.3"/><line x1="137.6" x2="137.6" y1="226" y2="228.3" stroke="#000" stroke-width="1.3"/><line x1="177.6" x2="177.6" y1="226" y2="228.3" stroke="#000" stroke-width="1.3"/><line x1="217.6" x2="217.6" y1="226" y2="228.3" stroke="#000" stroke-width="1.3"/><line x1="257.6" x2="257.6" y1="226" y2="228.3" stroke="#000" stroke-width="1.3"/><line x1="297.6" x2="297.6" y1="226" y2="228.3" stroke="#000" stroke-width="1.3"/><line x1="337.6" x2="337.6" y1="226" y2="228.3" stroke="#000" stroke-width="1.3"/><text x="187.5" y="254" class="lab" text-anchor="middle">Temp(°C)</text>

<path d="M385.7 3V227.9H684.5V3Z" fill="none" stroke="#000" stroke-width="1.5"/>
<line x1="381.8" x2="385.7" y1="3.4" y2="3.4" stroke="#000" stroke-width="1.3"/><text x="381.6" y="6.9" class="tk2" text-anchor="end">0.20</text>
<line x1="381.8" x2="385.7" y1="59.5" y2="59.5" stroke="#000" stroke-width="1.3"/><text x="381.6" y="63" class="tk2" text-anchor="end">0.15</text>
<line x1="381.8" x2="385.7" y1="115.7" y2="115.7" stroke="#000" stroke-width="1.3"/><text x="381.6" y="119.2" class="tk2" text-anchor="end">0.10</text>
<line x1="381.8" x2="385.7" y1="171.8" y2="171.8" stroke="#000" stroke-width="1.3"/><text x="381.6" y="175.3" class="tk2" text-anchor="end">0.05</text>
<line x1="381.8" x2="385.7" y1="227.9" y2="227.9" stroke="#000" stroke-width="1.3"/><text x="381.6" y="231.4" class="tk2" text-anchor="end">0.00</text>
<line x1="383.6" x2="385.7" y1="31.5" y2="31.5" stroke="#000" stroke-width="1.3"/><line x1="383.6" x2="385.7" y1="87.6" y2="87.6" stroke="#000" stroke-width="1.3"/><line x1="383.6" x2="385.7" y1="143.7" y2="143.7" stroke="#000" stroke-width="1.3"/><line x1="383.6" x2="385.7" y1="199.8" y2="199.8" stroke="#000" stroke-width="1.3"/><line x1="385.7" x2="385.7" y1="227.5" y2="232.7" stroke="#000" stroke-width="1.3"/><text x="385.7" y="244" class="tk" text-anchor="middle">0</text>
<line x1="425.7" x2="425.7" y1="227.5" y2="232.7" stroke="#000" stroke-width="1.3"/><text x="425.7" y="244" class="tk" text-anchor="middle">100</text>
<line x1="465.7" x2="465.7" y1="227.5" y2="232.7" stroke="#000" stroke-width="1.3"/><text x="465.7" y="244" class="tk" text-anchor="middle">200</text>
<line x1="505.7" x2="505.7" y1="227.5" y2="232.7" stroke="#000" stroke-width="1.3"/><text x="505.7" y="244" class="tk" text-anchor="middle">300</text>
<line x1="545.7" x2="545.7" y1="227.5" y2="232.7" stroke="#000" stroke-width="1.3"/><text x="545.7" y="244" class="tk" text-anchor="middle">400</text>
<line x1="585.7" x2="585.7" y1="227.5" y2="232.7" stroke="#000" stroke-width="1.3"/><text x="585.7" y="244" class="tk" text-anchor="middle">500</text>
<line x1="625.7" x2="625.7" y1="227.5" y2="232.7" stroke="#000" stroke-width="1.3"/><text x="625.7" y="244" class="tk" text-anchor="middle">600</text>
<line x1="665.7" x2="665.7" y1="227.5" y2="232.7" stroke="#000" stroke-width="1.3"/><text x="665.7" y="244" class="tk" text-anchor="middle">700</text>
<line x1="405.7" x2="405.7" y1="227.5" y2="229.8" stroke="#000" stroke-width="1.3"/><line x1="445.7" x2="445.7" y1="227.5" y2="229.8" stroke="#000" stroke-width="1.3"/><line x1="485.7" x2="485.7" y1="227.5" y2="229.8" stroke="#000" stroke-width="1.3"/><line x1="525.7" x2="525.7" y1="227.5" y2="229.8" stroke="#000" stroke-width="1.3"/><line x1="565.7" x2="565.7" y1="227.5" y2="229.8" stroke="#000" stroke-width="1.3"/><line x1="605.7" x2="605.7" y1="227.5" y2="229.8" stroke="#000" stroke-width="1.3"/><line x1="645.7" x2="645.7" y1="227.5" y2="229.8" stroke="#000" stroke-width="1.3"/><text x="535" y="254" class="lab" text-anchor="middle" style="font-size:11.3px">Temp(°C)</text>

<rect x="39.4" y="5.3" width="80.80000000000001" height="52.300000000000004" fill="#fff" stroke="#000" stroke-width="1.1"/>
<line x1="40.5" x2="64.5" y1="12.2" y2="12.2" stroke="#333" stroke-width="1.4"/><g fill="#000"><rect x="50.3" y="9.8" width="4.8" height="4.8" rx="0.6"/></g><text x="70" y="16.3" class="lg">50 k Hz</text>
<line x1="40.5" x2="64.5" y1="25" y2="25" stroke="#ff0000" stroke-width="1.4"/><g fill="#ff0000"><path d="M52.7 21.1L56.2 27.8H49.2Z"/></g><text x="70" y="29.1" class="lg">100 k Hz</text>
<line x1="40.5" x2="64.5" y1="37.5" y2="37.5" stroke="#0000ff" stroke-width="1.4"/><g fill="#0000ff"><path d="M52.7 33.2L56.5 37.5L52.7 41.8L49 37.5Z"/></g><text x="70" y="41.6" class="lg">500 k Hz</text>
<line x1="40.5" x2="64.5" y1="49.7" y2="49.7" stroke="#00ff00" stroke-width="1.4"/><g fill="#00ff00"><path d="M52.7 54.1L56.7 46.5H48.7Z"/></g><text x="70" y="53.8" class="lg">1 M Hz</text>

<rect x="388.3" y="5.2" width="73.69999999999999" height="48.599999999999994" fill="#fff" stroke="#000" stroke-width="1.1"/>
<line x1="389" x2="411.5" y1="11.9" y2="11.9" stroke="#333" stroke-width="1.4"/><g fill="#000"><circle cx="400.5" cy="11.9" r="2.5"/></g><text x="416" y="15.2" class="lg2">50 k Hz</text>
<line x1="389" x2="411.5" y1="23.7" y2="23.7" stroke="#ff0000" stroke-width="1.4"/><g fill="#ff0000"><path d="M400.5 21.2L402.8 25.5H398.2Z"/></g><text x="416" y="27" class="lg2">100 k Hz</text>
<line x1="389" x2="411.5" y1="35.6" y2="35.6" stroke="#0000ff" stroke-width="1.4"/><g fill="#0000ff"><circle cx="400.5" cy="35.6" r="2.4"/></g><text x="416" y="38.9" class="lg2">500 k Hz</text>
<line x1="389" x2="411.5" y1="47.4" y2="47.4" stroke="#00ff00" stroke-width="1.4"/><g fill="#00ff00"><path d="M400.5 50.3L403.1 45.3H397.9Z"/></g><text x="416" y="50.7" class="lg2">1 M Hz</text>

<text class="eps" transform="translate(13.6,114.7) rotate(-90) scale(1,1)" text-anchor="middle">ε</text>
<path d="M2 105.8L6.6 108.4" stroke="#222" stroke-width="1.6" stroke-linecap="round"/>
<text class="eps" transform="translate(360.4,131.5) rotate(-90) scale(0.9,0.9)" text-anchor="middle">ε</text>
<path d="M347.3 119.3L353.2 120.9M347.3 122.9L353.2 125" stroke="#222" stroke-width="1.6" stroke-linecap="round"/>
<text x="97" y="292" class="cap">(1) Dielectric constant</text>
<text x="451.5" y="292" class="cap">(2) Dielectric Losses</text>
</svg>
</body></html>
